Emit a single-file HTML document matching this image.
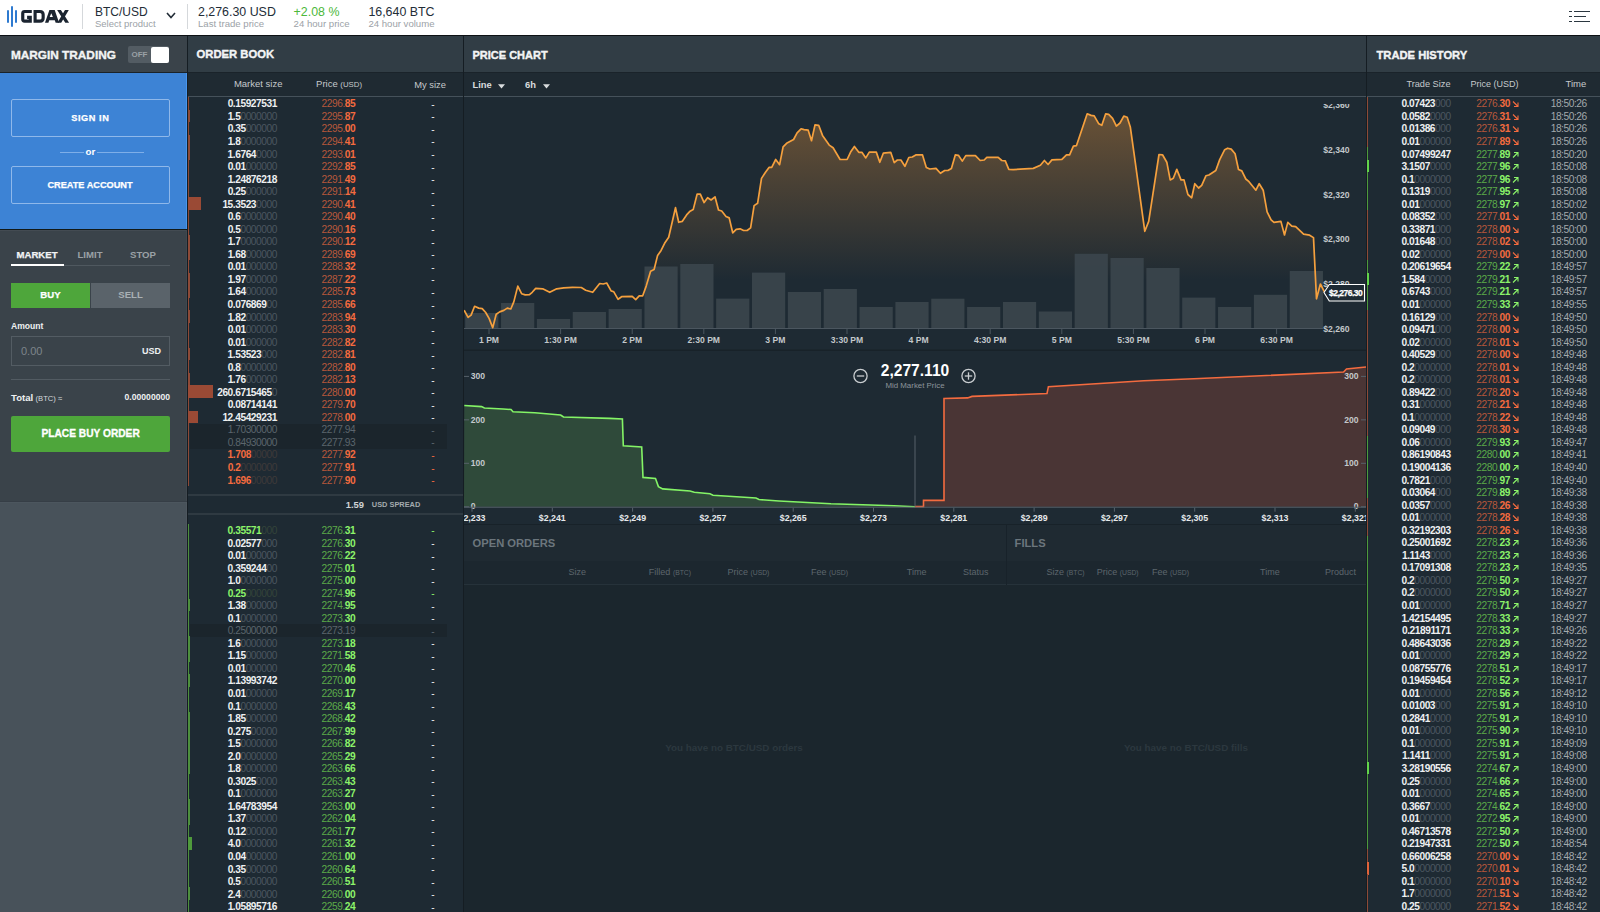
<!DOCTYPE html><html><head><meta charset="utf-8"><style>
html,body{margin:0;padding:0;width:1600px;height:912px;overflow:hidden;background:#1e2a33;font-family:"Liberation Sans", sans-serif;}
.t{position:absolute;white-space:pre;line-height:1;}
.r{position:absolute;}
svg{position:absolute;}
b{font-weight:700}
</style></head><body>
<div class="r" style="left:0px;top:0px;width:1600px;height:35px;background:#ffffff;"></div>
<div class="r" style="left:0px;top:35px;width:1600px;height:1px;background:#0d1115;"></div>
<div class="r" style="left:6.9px;top:10px;width:1.9px;height:12.8px;background:#2e7ad0;border-radius:1px"></div>
<div class="r" style="left:10.9px;top:5.9px;width:2.1px;height:21px;background:#2e7ad0;border-radius:1px"></div>
<div class="r" style="left:15px;top:10px;width:1.9px;height:12.8px;background:#2e7ad0;border-radius:1px"></div>
<svg style="left:0;top:0" width="80" height="35" viewBox="0 0 80 35"><g fill="none" stroke="#1b2430" stroke-width="3.15"><path d="M31.8,11.45 H24.6 Q22.75,11.45 22.75,13.3 V19.3 Q22.75,21.15 24.6,21.15 H30.25 V17.4 H27.1"/><path d="M35.1,9.9 V22.7 M35.1,11.45 H40 Q43.15,11.45 43.15,14.6 V18 Q43.15,21.15 40,21.15 H35.1"/></g><path fill="#1b2430" fill-rule="evenodd" d="M45,22.7 L49.4,9.9 L54.7,9.9 L59.1,22.7 Z M49.7,17.1 L51.3,13.2 L52.9,17.1 Z M48.4,22.7 L49.25,20.2 L54.8,20.2 L55.65,22.7 Z"/><path fill="#1b2430" d="M57.1,9.9 L60.9,9.9 L69.1,22.7 L65.3,22.7 Z M65,9.9 L68.8,9.9 L61.2,22.7 L57.4,22.7 Z"/></svg>
<div class="r" style="left:82px;top:4px;width:1px;height:25px;background:#d5d8db;"></div>
<div class="t" style="top:5.94px;font-size:12px;color:#232d37;font-weight:400;left:95.00px;">BTC/USD</div>
<div class="t" style="top:19.26px;font-size:9.5px;color:#9ca2a7;font-weight:400;left:95.00px;">Select product</div>
<svg style="left:165px;top:11px" width="12" height="9"><polyline points="2,2 6,6.5 10,2" fill="none" stroke="#232d37" stroke-width="1.6"/></svg>
<div class="r" style="left:187px;top:4px;width:1px;height:25px;background:#d5d8db;"></div>
<div class="t" style="top:5.60px;font-size:12.4px;color:#232d37;font-weight:400;left:198.00px;">2,276.30 USD</div>
<div class="t" style="top:19.17px;font-size:9.6px;color:#9ca2a7;font-weight:400;left:198.00px;">Last trade price</div>
<div class="t" style="top:5.60px;font-size:12.4px;color:#4cb83a;font-weight:400;left:293.60px;">+2.08 %</div>
<div class="t" style="top:19.17px;font-size:9.6px;color:#9ca2a7;font-weight:400;left:293.60px;">24 hour price</div>
<div class="t" style="top:5.60px;font-size:12.4px;color:#232d37;font-weight:400;left:368.40px;">16,640 BTC</div>
<div class="t" style="top:19.17px;font-size:9.6px;color:#9ca2a7;font-weight:400;left:368.40px;">24 hour volume</div>
<div class="r" style="left:1569px;top:10.700000000000001px;width:3.2px;height:1.4px;background:#2b3740;"></div>
<div class="r" style="left:1574px;top:10.700000000000001px;width:16px;height:1.4px;background:#2b3740;"></div>
<div class="r" style="left:1569px;top:15.7px;width:3.2px;height:1.4px;background:#2b3740;"></div>
<div class="r" style="left:1574px;top:15.7px;width:12px;height:1.4px;background:#2b3740;"></div>
<div class="r" style="left:1569px;top:20.7px;width:3.2px;height:1.4px;background:#2b3740;"></div>
<div class="r" style="left:1574px;top:20.7px;width:16px;height:1.4px;background:#2b3740;"></div>
<div class="r" style="left:0px;top:36px;width:187px;height:36px;background:#3a434a;"></div>
<div class="r" style="left:187px;top:36px;width:1px;height:876px;background:#151d23;"></div>
<div class="t" style="top:49.61px;font-size:11.8px;color:#eef0f1;font-weight:700;left:11.00px;-webkit-text-stroke:0.35px #ffffff;">MARGIN TRADING</div>
<div class="r" style="left:128px;top:46px;width:41px;height:17px;background:#535c63;border-radius:2px;"></div>
<div class="t" style="top:50.73px;font-size:8px;color:#9aa1a6;font-weight:700;left:131.50px;">OFF</div>
<div class="r" style="left:150.5px;top:46.5px;width:18.5px;height:16px;background:#ffffff;border-radius:2px;"></div>
<div class="r" style="left:0px;top:72px;width:187px;height:1px;background:#1a2228;"></div>
<div class="r" style="left:0px;top:73px;width:187px;height:156px;background:#3d83d5;"></div>
<div class="r" style="left:186px;top:73px;width:1px;height:156px;background:#4996ee;"></div>
<div class="r" style="left:11px;top:99px;width:159px;height:37.5px;border:1px solid #8fb8ea;border-radius:2px;box-sizing:border-box;"></div>
<div class="t" style="top:113.71px;font-size:9.2px;color:#ffffff;font-weight:700;letter-spacing:0.55px;left:-209.70px;width:600px;text-align:center;-webkit-text-stroke:0.25px #fff;">SIGN IN</div>
<div class="r" style="left:60px;top:152px;width:84px;height:1px;background:#7eaee8;"></div>
<div class="r" style="left:83.5px;top:146px;width:13.5px;height:12px;background:#3d83d5;"></div>
<div class="t" style="top:147.19px;font-size:9.7px;color:#ffffff;font-weight:700;left:-209.70px;width:600px;text-align:center;">or</div>
<div class="r" style="left:11px;top:166.2px;width:159px;height:37.5px;border:1px solid #8fb8ea;border-radius:2px;box-sizing:border-box;"></div>
<div class="t" style="top:180.71px;font-size:9.2px;color:#ffffff;font-weight:700;left:-210.00px;width:600px;text-align:center;-webkit-text-stroke:0.25px #fff;">CREATE ACCOUNT</div>
<div class="r" style="left:0px;top:229px;width:187px;height:1px;background:#121917;"></div>
<div class="r" style="left:0px;top:230px;width:187px;height:272px;background:#3a434a;"></div>
<div class="r" style="left:0px;top:230px;width:187px;height:1px;background:#434b52;"></div>
<div class="r" style="left:186px;top:230px;width:1px;height:272px;background:#414950;"></div>
<div class="t" style="top:249.87px;font-size:9.6px;color:#eef0f1;font-weight:700;left:-263.00px;width:600px;text-align:center;-webkit-text-stroke:0.25px #fff;">MARKET</div>
<div class="t" style="top:249.87px;font-size:9.6px;color:#9aa1a6;font-weight:700;left:-210.00px;width:600px;text-align:center;">LIMIT</div>
<div class="t" style="top:249.87px;font-size:9.6px;color:#9aa1a6;font-weight:700;left:-157.00px;width:600px;text-align:center;">STOP</div>
<div class="r" style="left:11px;top:264.5px;width:159px;height:1px;background:#4f585f;"></div>
<div class="r" style="left:11px;top:264px;width:53px;height:2px;background:#ffffff;"></div>
<div class="r" style="left:11px;top:283px;width:79px;height:25px;background:#4ea63b;"></div>
<div class="r" style="left:91px;top:283px;width:79px;height:25px;background:#5a636a;"></div>
<div class="t" style="top:290.37px;font-size:9.6px;color:#ffffff;font-weight:700;left:-249.50px;width:600px;text-align:center;-webkit-text-stroke:0.25px #fff;">BUY</div>
<div class="t" style="top:290.37px;font-size:9.6px;color:#a9b0b4;font-weight:700;left:-169.50px;width:600px;text-align:center;">SELL</div>
<div class="t" style="top:321.72px;font-size:8.6px;color:#eef0f1;font-weight:700;left:11.00px;">Amount</div>
<div class="r" style="left:11px;top:336px;width:159px;height:30px;border:1px solid #535c63;box-sizing:border-box;background:#3a434a;"></div>
<div class="t" style="top:346.19px;font-size:11px;color:#7d858b;font-weight:400;left:21.00px;">0.00</div>
<div class="t" style="top:347.38px;font-size:9px;color:#eef0f1;font-weight:700;left:-439.00px;width:600px;text-align:right;">USD</div>
<div class="r" style="left:11px;top:379px;width:159px;height:1px;background:#525b62;"></div>
<div class="t" style="top:392.87px;font-size:9.6px;color:#eef0f1;font-weight:700;left:11.00px;">Total</div>
<div class="t" style="top:394.57px;font-size:7.6px;color:#d5d9dc;font-weight:400;left:35.60px;">(BTC) ≈</div>
<div class="t" style="top:393.22px;font-size:8.6px;color:#eef0f1;font-weight:700;left:-430.00px;width:600px;text-align:right;">0.00000000</div>
<div class="r" style="left:11px;top:416px;width:159px;height:36px;background:#4ea63b;border-radius:2px;"></div>
<div class="t" style="top:429.17px;font-size:10.2px;color:#ffffff;font-weight:700;left:-209.40px;width:600px;text-align:center;-webkit-text-stroke:0.3px #fff;">PLACE BUY ORDER</div>
<div class="r" style="left:0px;top:501px;width:187px;height:1px;background:#363e46;"></div>
<div class="r" style="left:0px;top:502px;width:187px;height:410px;background:#48525a;"></div>
<div class="r" style="left:0px;top:502px;width:187px;height:1px;background:#4c565e;"></div>
<div class="r" style="left:186px;top:502px;width:1px;height:410px;background:#4e575f;"></div>
<div class="r" style="left:188px;top:36px;width:275px;height:36px;background:#313d45;"></div>
<div class="r" style="left:463px;top:36px;width:1px;height:876px;background:#151d23;"></div>
<div class="t" style="top:49.48px;font-size:11.25px;color:#eef0f1;font-weight:700;left:196.50px;-webkit-text-stroke:0.35px #ffffff;">ORDER BOOK</div>
<div class="r" style="left:188px;top:72px;width:275px;height:24px;background:#1f2a32;"></div>
<div class="r" style="left:188px;top:72px;width:275px;height:1px;background:#1a232a;"></div>
<div class="t" style="top:79.46px;font-size:9.5px;color:#c5c9cc;font-weight:400;left:-317.50px;width:600px;text-align:right;">Market size</div>
<div class="t" style="top:79.46px;font-size:9.5px;color:#c5c9cc;font-weight:400;left:-238.00px;width:600px;text-align:right;">Price <span style="font-size:7.8px">(USD)</span></div>
<div class="t" style="top:79.54px;font-size:9.4px;color:#c5c9cc;font-weight:400;left:-154.00px;width:600px;text-align:right;">My size</div>
<div class="r" style="left:188px;top:96px;width:275px;height:1px;background:#45515a;"></div>
<div class="r" style="left:188px;top:97.0px;width:1px;height:12.639999999999999px;background:#8d4a37;"></div>
<div class="t" style="top:99.37px;font-size:10.2px;color:#eef0f1;font-weight:400;letter-spacing:-0.45px;left:-323.05px;width:600px;text-align:right;"><b style="color:#eef0f1">0.15927531</b><span style="color:#4c5760"></span></div>
<div class="t" style="top:99.37px;font-size:10.2px;color:#f46b3f;font-weight:400;letter-spacing:-0.45px;left:-244.75px;width:600px;text-align:right;"><span style="color:#b8583b">2296.</span><b style="color:#f46b3f">85</b></div>
<div class="t" style="top:99.87px;font-size:10.2px;color:#eef0f1;font-weight:400;left:133.00px;width:600px;text-align:center;">-</div>
<div class="r" style="left:188px;top:109.54px;width:2px;height:12.639999999999999px;background:#8d4a37;"></div>
<div class="t" style="top:111.91px;font-size:10.2px;color:#eef0f1;font-weight:400;letter-spacing:-0.45px;left:-323.05px;width:600px;text-align:right;"><b style="color:#eef0f1">1.5</b><span style="color:#4c5760">0000000</span></div>
<div class="t" style="top:111.91px;font-size:10.2px;color:#f46b3f;font-weight:400;letter-spacing:-0.45px;left:-244.75px;width:600px;text-align:right;"><span style="color:#b8583b">2295.</span><b style="color:#f46b3f">87</b></div>
<div class="t" style="top:112.41px;font-size:10.2px;color:#eef0f1;font-weight:400;left:133.00px;width:600px;text-align:center;">-</div>
<div class="r" style="left:188px;top:122.08px;width:1px;height:12.639999999999999px;background:#8d4a37;"></div>
<div class="t" style="top:124.45px;font-size:10.2px;color:#eef0f1;font-weight:400;letter-spacing:-0.45px;left:-323.05px;width:600px;text-align:right;"><b style="color:#eef0f1">0.35</b><span style="color:#4c5760">000000</span></div>
<div class="t" style="top:124.45px;font-size:10.2px;color:#f46b3f;font-weight:400;letter-spacing:-0.45px;left:-244.75px;width:600px;text-align:right;"><span style="color:#b8583b">2295.</span><b style="color:#f46b3f">00</b></div>
<div class="t" style="top:124.95px;font-size:10.2px;color:#eef0f1;font-weight:400;left:133.00px;width:600px;text-align:center;">-</div>
<div class="r" style="left:188px;top:134.62px;width:2px;height:12.639999999999999px;background:#8d4a37;"></div>
<div class="t" style="top:136.99px;font-size:10.2px;color:#eef0f1;font-weight:400;letter-spacing:-0.45px;left:-323.05px;width:600px;text-align:right;"><b style="color:#eef0f1">1.8</b><span style="color:#4c5760">0000000</span></div>
<div class="t" style="top:136.99px;font-size:10.2px;color:#f46b3f;font-weight:400;letter-spacing:-0.45px;left:-244.75px;width:600px;text-align:right;"><span style="color:#b8583b">2294.</span><b style="color:#f46b3f">41</b></div>
<div class="t" style="top:137.49px;font-size:10.2px;color:#eef0f1;font-weight:400;left:133.00px;width:600px;text-align:center;">-</div>
<div class="r" style="left:188px;top:147.16px;width:2px;height:12.639999999999999px;background:#8d4a37;"></div>
<div class="t" style="top:149.53px;font-size:10.2px;color:#eef0f1;font-weight:400;letter-spacing:-0.45px;left:-323.05px;width:600px;text-align:right;"><b style="color:#eef0f1">1.6764</b><span style="color:#4c5760">0000</span></div>
<div class="t" style="top:149.53px;font-size:10.2px;color:#f46b3f;font-weight:400;letter-spacing:-0.45px;left:-244.75px;width:600px;text-align:right;"><span style="color:#b8583b">2293.</span><b style="color:#f46b3f">01</b></div>
<div class="t" style="top:150.03px;font-size:10.2px;color:#eef0f1;font-weight:400;left:133.00px;width:600px;text-align:center;">-</div>
<div class="r" style="left:188px;top:159.7px;width:1px;height:12.639999999999999px;background:#8d4a37;"></div>
<div class="t" style="top:162.07px;font-size:10.2px;color:#eef0f1;font-weight:400;letter-spacing:-0.45px;left:-323.05px;width:600px;text-align:right;"><b style="color:#eef0f1">0.01</b><span style="color:#4c5760">000000</span></div>
<div class="t" style="top:162.07px;font-size:10.2px;color:#f46b3f;font-weight:400;letter-spacing:-0.45px;left:-244.75px;width:600px;text-align:right;"><span style="color:#b8583b">2292.</span><b style="color:#f46b3f">85</b></div>
<div class="t" style="top:162.57px;font-size:10.2px;color:#eef0f1;font-weight:400;left:133.00px;width:600px;text-align:center;">-</div>
<div class="r" style="left:188px;top:172.24px;width:1px;height:12.639999999999999px;background:#8d4a37;"></div>
<div class="t" style="top:174.61px;font-size:10.2px;color:#eef0f1;font-weight:400;letter-spacing:-0.45px;left:-323.05px;width:600px;text-align:right;"><b style="color:#eef0f1">1.24876218</b><span style="color:#4c5760"></span></div>
<div class="t" style="top:174.61px;font-size:10.2px;color:#f46b3f;font-weight:400;letter-spacing:-0.45px;left:-244.75px;width:600px;text-align:right;"><span style="color:#b8583b">2291.</span><b style="color:#f46b3f">49</b></div>
<div class="t" style="top:175.11px;font-size:10.2px;color:#eef0f1;font-weight:400;left:133.00px;width:600px;text-align:center;">-</div>
<div class="r" style="left:188px;top:184.78px;width:1px;height:12.639999999999999px;background:#8d4a37;"></div>
<div class="t" style="top:187.15px;font-size:10.2px;color:#eef0f1;font-weight:400;letter-spacing:-0.45px;left:-323.05px;width:600px;text-align:right;"><b style="color:#eef0f1">0.25</b><span style="color:#4c5760">000000</span></div>
<div class="t" style="top:187.15px;font-size:10.2px;color:#f46b3f;font-weight:400;letter-spacing:-0.45px;left:-244.75px;width:600px;text-align:right;"><span style="color:#b8583b">2291.</span><b style="color:#f46b3f">14</b></div>
<div class="t" style="top:187.65px;font-size:10.2px;color:#eef0f1;font-weight:400;left:133.00px;width:600px;text-align:center;">-</div>
<div class="r" style="left:188px;top:197.32px;width:13px;height:12.639999999999999px;background:#9a4a35;"></div>
<div class="t" style="top:199.69px;font-size:10.2px;color:#eef0f1;font-weight:400;letter-spacing:-0.45px;left:-323.05px;width:600px;text-align:right;"><b style="color:#eef0f1">15.3523</b><span style="color:#4c5760">0000</span></div>
<div class="t" style="top:199.69px;font-size:10.2px;color:#f46b3f;font-weight:400;letter-spacing:-0.45px;left:-244.75px;width:600px;text-align:right;"><span style="color:#b8583b">2290.</span><b style="color:#f46b3f">41</b></div>
<div class="t" style="top:200.19px;font-size:10.2px;color:#eef0f1;font-weight:400;left:133.00px;width:600px;text-align:center;">-</div>
<div class="r" style="left:188px;top:209.86px;width:1px;height:12.639999999999999px;background:#8d4a37;"></div>
<div class="t" style="top:212.23px;font-size:10.2px;color:#eef0f1;font-weight:400;letter-spacing:-0.45px;left:-323.05px;width:600px;text-align:right;"><b style="color:#eef0f1">0.6</b><span style="color:#4c5760">0000000</span></div>
<div class="t" style="top:212.23px;font-size:10.2px;color:#f46b3f;font-weight:400;letter-spacing:-0.45px;left:-244.75px;width:600px;text-align:right;"><span style="color:#b8583b">2290.</span><b style="color:#f46b3f">40</b></div>
<div class="t" style="top:212.73px;font-size:10.2px;color:#eef0f1;font-weight:400;left:133.00px;width:600px;text-align:center;">-</div>
<div class="r" style="left:188px;top:222.4px;width:1px;height:12.639999999999999px;background:#8d4a37;"></div>
<div class="t" style="top:224.77px;font-size:10.2px;color:#eef0f1;font-weight:400;letter-spacing:-0.45px;left:-323.05px;width:600px;text-align:right;"><b style="color:#eef0f1">0.5</b><span style="color:#4c5760">0000000</span></div>
<div class="t" style="top:224.77px;font-size:10.2px;color:#f46b3f;font-weight:400;letter-spacing:-0.45px;left:-244.75px;width:600px;text-align:right;"><span style="color:#b8583b">2290.</span><b style="color:#f46b3f">16</b></div>
<div class="t" style="top:225.27px;font-size:10.2px;color:#eef0f1;font-weight:400;left:133.00px;width:600px;text-align:center;">-</div>
<div class="r" style="left:188px;top:234.94px;width:2px;height:12.639999999999999px;background:#8d4a37;"></div>
<div class="t" style="top:237.31px;font-size:10.2px;color:#eef0f1;font-weight:400;letter-spacing:-0.45px;left:-323.05px;width:600px;text-align:right;"><b style="color:#eef0f1">1.7</b><span style="color:#4c5760">0000000</span></div>
<div class="t" style="top:237.31px;font-size:10.2px;color:#f46b3f;font-weight:400;letter-spacing:-0.45px;left:-244.75px;width:600px;text-align:right;"><span style="color:#b8583b">2290.</span><b style="color:#f46b3f">12</b></div>
<div class="t" style="top:237.81px;font-size:10.2px;color:#eef0f1;font-weight:400;left:133.00px;width:600px;text-align:center;">-</div>
<div class="r" style="left:188px;top:247.48px;width:2px;height:12.639999999999999px;background:#8d4a37;"></div>
<div class="t" style="top:249.85px;font-size:10.2px;color:#eef0f1;font-weight:400;letter-spacing:-0.45px;left:-323.05px;width:600px;text-align:right;"><b style="color:#eef0f1">1.68</b><span style="color:#4c5760">000000</span></div>
<div class="t" style="top:249.85px;font-size:10.2px;color:#f46b3f;font-weight:400;letter-spacing:-0.45px;left:-244.75px;width:600px;text-align:right;"><span style="color:#b8583b">2289.</span><b style="color:#f46b3f">69</b></div>
<div class="t" style="top:250.35px;font-size:10.2px;color:#eef0f1;font-weight:400;left:133.00px;width:600px;text-align:center;">-</div>
<div class="r" style="left:188px;top:260.02px;width:1px;height:12.639999999999999px;background:#8d4a37;"></div>
<div class="t" style="top:262.39px;font-size:10.2px;color:#eef0f1;font-weight:400;letter-spacing:-0.45px;left:-323.05px;width:600px;text-align:right;"><b style="color:#eef0f1">0.01</b><span style="color:#4c5760">000000</span></div>
<div class="t" style="top:262.39px;font-size:10.2px;color:#f46b3f;font-weight:400;letter-spacing:-0.45px;left:-244.75px;width:600px;text-align:right;"><span style="color:#b8583b">2288.</span><b style="color:#f46b3f">32</b></div>
<div class="t" style="top:262.89px;font-size:10.2px;color:#eef0f1;font-weight:400;left:133.00px;width:600px;text-align:center;">-</div>
<div class="r" style="left:188px;top:272.56px;width:2px;height:12.639999999999999px;background:#8d4a37;"></div>
<div class="t" style="top:274.93px;font-size:10.2px;color:#eef0f1;font-weight:400;letter-spacing:-0.45px;left:-323.05px;width:600px;text-align:right;"><b style="color:#eef0f1">1.97</b><span style="color:#4c5760">000000</span></div>
<div class="t" style="top:274.93px;font-size:10.2px;color:#f46b3f;font-weight:400;letter-spacing:-0.45px;left:-244.75px;width:600px;text-align:right;"><span style="color:#b8583b">2287.</span><b style="color:#f46b3f">22</b></div>
<div class="t" style="top:275.43px;font-size:10.2px;color:#eef0f1;font-weight:400;left:133.00px;width:600px;text-align:center;">-</div>
<div class="r" style="left:188px;top:285.1px;width:2px;height:12.639999999999999px;background:#8d4a37;"></div>
<div class="t" style="top:287.47px;font-size:10.2px;color:#eef0f1;font-weight:400;letter-spacing:-0.45px;left:-323.05px;width:600px;text-align:right;"><b style="color:#eef0f1">1.64</b><span style="color:#4c5760">000000</span></div>
<div class="t" style="top:287.47px;font-size:10.2px;color:#f46b3f;font-weight:400;letter-spacing:-0.45px;left:-244.75px;width:600px;text-align:right;"><span style="color:#b8583b">2285.</span><b style="color:#f46b3f">73</b></div>
<div class="t" style="top:287.97px;font-size:10.2px;color:#eef0f1;font-weight:400;left:133.00px;width:600px;text-align:center;">-</div>
<div class="r" style="left:188px;top:297.64px;width:1px;height:12.639999999999999px;background:#8d4a37;"></div>
<div class="t" style="top:300.01px;font-size:10.2px;color:#eef0f1;font-weight:400;letter-spacing:-0.45px;left:-323.05px;width:600px;text-align:right;"><b style="color:#eef0f1">0.076869</b><span style="color:#4c5760">00</span></div>
<div class="t" style="top:300.01px;font-size:10.2px;color:#f46b3f;font-weight:400;letter-spacing:-0.45px;left:-244.75px;width:600px;text-align:right;"><span style="color:#b8583b">2285.</span><b style="color:#f46b3f">66</b></div>
<div class="t" style="top:300.51px;font-size:10.2px;color:#eef0f1;font-weight:400;left:133.00px;width:600px;text-align:center;">-</div>
<div class="r" style="left:188px;top:310.18px;width:2px;height:12.639999999999999px;background:#8d4a37;"></div>
<div class="t" style="top:312.55px;font-size:10.2px;color:#eef0f1;font-weight:400;letter-spacing:-0.45px;left:-323.05px;width:600px;text-align:right;"><b style="color:#eef0f1">1.82</b><span style="color:#4c5760">000000</span></div>
<div class="t" style="top:312.55px;font-size:10.2px;color:#f46b3f;font-weight:400;letter-spacing:-0.45px;left:-244.75px;width:600px;text-align:right;"><span style="color:#b8583b">2283.</span><b style="color:#f46b3f">94</b></div>
<div class="t" style="top:313.05px;font-size:10.2px;color:#eef0f1;font-weight:400;left:133.00px;width:600px;text-align:center;">-</div>
<div class="r" style="left:188px;top:322.72px;width:1px;height:12.639999999999999px;background:#8d4a37;"></div>
<div class="t" style="top:325.09px;font-size:10.2px;color:#eef0f1;font-weight:400;letter-spacing:-0.45px;left:-323.05px;width:600px;text-align:right;"><b style="color:#eef0f1">0.01</b><span style="color:#4c5760">000000</span></div>
<div class="t" style="top:325.09px;font-size:10.2px;color:#f46b3f;font-weight:400;letter-spacing:-0.45px;left:-244.75px;width:600px;text-align:right;"><span style="color:#b8583b">2283.</span><b style="color:#f46b3f">30</b></div>
<div class="t" style="top:325.59px;font-size:10.2px;color:#eef0f1;font-weight:400;left:133.00px;width:600px;text-align:center;">-</div>
<div class="r" style="left:188px;top:335.26px;width:1px;height:12.639999999999999px;background:#8d4a37;"></div>
<div class="t" style="top:337.63px;font-size:10.2px;color:#eef0f1;font-weight:400;letter-spacing:-0.45px;left:-323.05px;width:600px;text-align:right;"><b style="color:#eef0f1">0.01</b><span style="color:#4c5760">000000</span></div>
<div class="t" style="top:337.63px;font-size:10.2px;color:#f46b3f;font-weight:400;letter-spacing:-0.45px;left:-244.75px;width:600px;text-align:right;"><span style="color:#b8583b">2282.</span><b style="color:#f46b3f">82</b></div>
<div class="t" style="top:338.13px;font-size:10.2px;color:#eef0f1;font-weight:400;left:133.00px;width:600px;text-align:center;">-</div>
<div class="r" style="left:188px;top:347.8px;width:2px;height:12.639999999999999px;background:#8d4a37;"></div>
<div class="t" style="top:350.17px;font-size:10.2px;color:#eef0f1;font-weight:400;letter-spacing:-0.45px;left:-323.05px;width:600px;text-align:right;"><b style="color:#eef0f1">1.53523</b><span style="color:#4c5760">000</span></div>
<div class="t" style="top:350.17px;font-size:10.2px;color:#f46b3f;font-weight:400;letter-spacing:-0.45px;left:-244.75px;width:600px;text-align:right;"><span style="color:#b8583b">2282.</span><b style="color:#f46b3f">81</b></div>
<div class="t" style="top:350.67px;font-size:10.2px;color:#eef0f1;font-weight:400;left:133.00px;width:600px;text-align:center;">-</div>
<div class="r" style="left:188px;top:360.34px;width:1px;height:12.639999999999999px;background:#8d4a37;"></div>
<div class="t" style="top:362.71px;font-size:10.2px;color:#eef0f1;font-weight:400;letter-spacing:-0.45px;left:-323.05px;width:600px;text-align:right;"><b style="color:#eef0f1">0.8</b><span style="color:#4c5760">0000000</span></div>
<div class="t" style="top:362.71px;font-size:10.2px;color:#f46b3f;font-weight:400;letter-spacing:-0.45px;left:-244.75px;width:600px;text-align:right;"><span style="color:#b8583b">2282.</span><b style="color:#f46b3f">80</b></div>
<div class="t" style="top:363.21px;font-size:10.2px;color:#eef0f1;font-weight:400;left:133.00px;width:600px;text-align:center;">-</div>
<div class="r" style="left:188px;top:372.88px;width:2px;height:12.639999999999999px;background:#8d4a37;"></div>
<div class="t" style="top:375.25px;font-size:10.2px;color:#eef0f1;font-weight:400;letter-spacing:-0.45px;left:-323.05px;width:600px;text-align:right;"><b style="color:#eef0f1">1.76</b><span style="color:#4c5760">000000</span></div>
<div class="t" style="top:375.25px;font-size:10.2px;color:#f46b3f;font-weight:400;letter-spacing:-0.45px;left:-244.75px;width:600px;text-align:right;"><span style="color:#b8583b">2282.</span><b style="color:#f46b3f">13</b></div>
<div class="t" style="top:375.75px;font-size:10.2px;color:#eef0f1;font-weight:400;left:133.00px;width:600px;text-align:center;">-</div>
<div class="r" style="left:188px;top:385.42px;width:25px;height:12.639999999999999px;background:#9a4a35;"></div>
<div class="t" style="top:387.79px;font-size:10.2px;color:#eef0f1;font-weight:400;letter-spacing:-0.45px;left:-323.05px;width:600px;text-align:right;"><b style="color:#eef0f1">260.6715465</b><span style="color:#4c5760">0</span></div>
<div class="t" style="top:387.79px;font-size:10.2px;color:#f46b3f;font-weight:400;letter-spacing:-0.45px;left:-244.75px;width:600px;text-align:right;"><span style="color:#b8583b">2280.</span><b style="color:#f46b3f">00</b></div>
<div class="t" style="top:388.29px;font-size:10.2px;color:#eef0f1;font-weight:400;left:133.00px;width:600px;text-align:center;">-</div>
<div class="r" style="left:188px;top:397.96px;width:1px;height:12.639999999999999px;background:#8d4a37;"></div>
<div class="t" style="top:400.33px;font-size:10.2px;color:#eef0f1;font-weight:400;letter-spacing:-0.45px;left:-323.05px;width:600px;text-align:right;"><b style="color:#eef0f1">0.08714141</b><span style="color:#4c5760"></span></div>
<div class="t" style="top:400.33px;font-size:10.2px;color:#f46b3f;font-weight:400;letter-spacing:-0.45px;left:-244.75px;width:600px;text-align:right;"><span style="color:#b8583b">2279.</span><b style="color:#f46b3f">70</b></div>
<div class="t" style="top:400.83px;font-size:10.2px;color:#eef0f1;font-weight:400;left:133.00px;width:600px;text-align:center;">-</div>
<div class="r" style="left:188px;top:410.5px;width:10px;height:12.639999999999999px;background:#9a4a35;"></div>
<div class="t" style="top:412.87px;font-size:10.2px;color:#eef0f1;font-weight:400;letter-spacing:-0.45px;left:-323.05px;width:600px;text-align:right;"><b style="color:#eef0f1">12.45429231</b><span style="color:#4c5760"></span></div>
<div class="t" style="top:412.87px;font-size:10.2px;color:#f46b3f;font-weight:400;letter-spacing:-0.45px;left:-244.75px;width:600px;text-align:right;"><span style="color:#b8583b">2278.</span><b style="color:#f46b3f">00</b></div>
<div class="t" style="top:413.37px;font-size:10.2px;color:#eef0f1;font-weight:400;left:133.00px;width:600px;text-align:center;">-</div>
<div class="r" style="left:190px;top:423.54px;width:257px;height:12.5px;background:#1b252c;"></div>
<div class="r" style="left:188px;top:423.04px;width:1px;height:12.639999999999999px;background:#8d4a37;"></div>
<div class="t" style="top:425.41px;font-size:10.2px;color:#5b656d;font-weight:400;letter-spacing:-0.45px;left:-323.05px;width:600px;text-align:right;">1.70300000</div>
<div class="t" style="top:425.41px;font-size:10.2px;color:#5b656d;font-weight:400;letter-spacing:-0.45px;left:-244.75px;width:600px;text-align:right;">2277.94</div>
<div class="t" style="top:425.91px;font-size:10.2px;color:#5b656d;font-weight:400;left:133.00px;width:600px;text-align:center;">-</div>
<div class="r" style="left:190px;top:436.08px;width:257px;height:12.5px;background:#1b252c;"></div>
<div class="r" style="left:188px;top:435.58px;width:1px;height:12.639999999999999px;background:#8d4a37;"></div>
<div class="t" style="top:437.95px;font-size:10.2px;color:#5b656d;font-weight:400;letter-spacing:-0.45px;left:-323.05px;width:600px;text-align:right;">0.84930000</div>
<div class="t" style="top:437.95px;font-size:10.2px;color:#5b656d;font-weight:400;letter-spacing:-0.45px;left:-244.75px;width:600px;text-align:right;">2277.93</div>
<div class="t" style="top:438.45px;font-size:10.2px;color:#5b656d;font-weight:400;left:133.00px;width:600px;text-align:center;">-</div>
<div class="r" style="left:188px;top:448.12px;width:1px;height:12.639999999999999px;background:#8d4a37;"></div>
<div class="t" style="top:450.49px;font-size:10.2px;color:#f46b3f;font-weight:400;letter-spacing:-0.45px;left:-323.05px;width:600px;text-align:right;"><b style="color:#f46b3f">1.708</b><span style="color:#3f3a3a">00000</span></div>
<div class="t" style="top:450.49px;font-size:10.2px;color:#f46b3f;font-weight:400;letter-spacing:-0.45px;left:-244.75px;width:600px;text-align:right;"><span style="color:#b8583b">2277.</span><b style="color:#f46b3f">92</b></div>
<div class="t" style="top:450.99px;font-size:10.2px;color:#f46b3f;font-weight:400;left:133.00px;width:600px;text-align:center;">-</div>
<div class="r" style="left:188px;top:460.66px;width:1px;height:12.639999999999999px;background:#8d4a37;"></div>
<div class="t" style="top:463.03px;font-size:10.2px;color:#f46b3f;font-weight:400;letter-spacing:-0.45px;left:-323.05px;width:600px;text-align:right;"><b style="color:#f46b3f">0.2</b><span style="color:#3f3a3a">0000000</span></div>
<div class="t" style="top:463.03px;font-size:10.2px;color:#f46b3f;font-weight:400;letter-spacing:-0.45px;left:-244.75px;width:600px;text-align:right;"><span style="color:#b8583b">2277.</span><b style="color:#f46b3f">91</b></div>
<div class="t" style="top:463.53px;font-size:10.2px;color:#f46b3f;font-weight:400;left:133.00px;width:600px;text-align:center;">-</div>
<div class="r" style="left:188px;top:473.2px;width:1px;height:12.639999999999999px;background:#8d4a37;"></div>
<div class="t" style="top:475.57px;font-size:10.2px;color:#f46b3f;font-weight:400;letter-spacing:-0.45px;left:-323.05px;width:600px;text-align:right;"><b style="color:#f46b3f">1.696</b><span style="color:#3f3a3a">00000</span></div>
<div class="t" style="top:475.57px;font-size:10.2px;color:#f46b3f;font-weight:400;letter-spacing:-0.45px;left:-244.75px;width:600px;text-align:right;"><span style="color:#b8583b">2277.</span><b style="color:#f46b3f">90</b></div>
<div class="t" style="top:476.07px;font-size:10.2px;color:#f46b3f;font-weight:400;left:133.00px;width:600px;text-align:center;">-</div>
<div class="r" style="left:188px;top:494px;width:275px;height:2px;background:#2f3a42;"></div>
<div class="r" style="left:188px;top:512.5px;width:275px;height:2px;background:#2f3a42;"></div>
<div class="t" style="top:499.54px;font-size:9.4px;color:#d0d4d7;font-weight:700;left:-236.00px;width:600px;text-align:right;">1.59</div>
<div class="t" style="top:501.04px;font-size:7.4px;color:#a4aaae;font-weight:700;left:371.80px;">USD SPREAD</div>
<div class="r" style="left:188px;top:523.6px;width:1px;height:12.639999999999999px;background:#4d8f3d;"></div>
<div class="t" style="top:525.97px;font-size:10.2px;color:#8cf36a;font-weight:400;letter-spacing:-0.45px;left:-323.05px;width:600px;text-align:right;"><b style="color:#8cf36a">0.35571</b><span style="color:#34443a">000</span></div>
<div class="t" style="top:525.97px;font-size:10.2px;color:#8cf36a;font-weight:400;letter-spacing:-0.45px;left:-244.75px;width:600px;text-align:right;"><span style="color:#5caa49">2276.</span><b style="color:#8cf36a">31</b></div>
<div class="t" style="top:526.47px;font-size:10.2px;color:#8cf36a;font-weight:400;left:133.00px;width:600px;text-align:center;">-</div>
<div class="r" style="left:188px;top:536.14px;width:1px;height:12.639999999999999px;background:#4d8f3d;"></div>
<div class="t" style="top:538.51px;font-size:10.2px;color:#eef0f1;font-weight:400;letter-spacing:-0.45px;left:-323.05px;width:600px;text-align:right;"><b style="color:#eef0f1">0.02577</b><span style="color:#4c5760">000</span></div>
<div class="t" style="top:538.51px;font-size:10.2px;color:#8cf36a;font-weight:400;letter-spacing:-0.45px;left:-244.75px;width:600px;text-align:right;"><span style="color:#5caa49">2276.</span><b style="color:#8cf36a">30</b></div>
<div class="t" style="top:539.01px;font-size:10.2px;color:#eef0f1;font-weight:400;left:133.00px;width:600px;text-align:center;">-</div>
<div class="r" style="left:188px;top:548.68px;width:1px;height:12.639999999999999px;background:#4d8f3d;"></div>
<div class="t" style="top:551.05px;font-size:10.2px;color:#eef0f1;font-weight:400;letter-spacing:-0.45px;left:-323.05px;width:600px;text-align:right;"><b style="color:#eef0f1">0.01</b><span style="color:#4c5760">000000</span></div>
<div class="t" style="top:551.05px;font-size:10.2px;color:#8cf36a;font-weight:400;letter-spacing:-0.45px;left:-244.75px;width:600px;text-align:right;"><span style="color:#5caa49">2276.</span><b style="color:#8cf36a">22</b></div>
<div class="t" style="top:551.55px;font-size:10.2px;color:#eef0f1;font-weight:400;left:133.00px;width:600px;text-align:center;">-</div>
<div class="r" style="left:188px;top:561.22px;width:1px;height:12.639999999999999px;background:#4d8f3d;"></div>
<div class="t" style="top:563.59px;font-size:10.2px;color:#eef0f1;font-weight:400;letter-spacing:-0.45px;left:-323.05px;width:600px;text-align:right;"><b style="color:#eef0f1">0.359244</b><span style="color:#4c5760">00</span></div>
<div class="t" style="top:563.59px;font-size:10.2px;color:#8cf36a;font-weight:400;letter-spacing:-0.45px;left:-244.75px;width:600px;text-align:right;"><span style="color:#5caa49">2275.</span><b style="color:#8cf36a">01</b></div>
<div class="t" style="top:564.09px;font-size:10.2px;color:#eef0f1;font-weight:400;left:133.00px;width:600px;text-align:center;">-</div>
<div class="r" style="left:188px;top:573.76px;width:1px;height:12.639999999999999px;background:#4d8f3d;"></div>
<div class="t" style="top:576.13px;font-size:10.2px;color:#eef0f1;font-weight:400;letter-spacing:-0.45px;left:-323.05px;width:600px;text-align:right;"><b style="color:#eef0f1">1.0</b><span style="color:#4c5760">0000000</span></div>
<div class="t" style="top:576.13px;font-size:10.2px;color:#8cf36a;font-weight:400;letter-spacing:-0.45px;left:-244.75px;width:600px;text-align:right;"><span style="color:#5caa49">2275.</span><b style="color:#8cf36a">00</b></div>
<div class="t" style="top:576.63px;font-size:10.2px;color:#eef0f1;font-weight:400;left:133.00px;width:600px;text-align:center;">-</div>
<div class="r" style="left:188px;top:586.3px;width:1px;height:12.639999999999999px;background:#4d8f3d;"></div>
<div class="t" style="top:588.67px;font-size:10.2px;color:#8cf36a;font-weight:400;letter-spacing:-0.45px;left:-323.05px;width:600px;text-align:right;"><b style="color:#8cf36a">0.25</b><span style="color:#34443a">000000</span></div>
<div class="t" style="top:588.67px;font-size:10.2px;color:#8cf36a;font-weight:400;letter-spacing:-0.45px;left:-244.75px;width:600px;text-align:right;"><span style="color:#5caa49">2274.</span><b style="color:#8cf36a">96</b></div>
<div class="t" style="top:589.17px;font-size:10.2px;color:#8cf36a;font-weight:400;left:133.00px;width:600px;text-align:center;">-</div>
<div class="r" style="left:188px;top:598.84px;width:2px;height:12.639999999999999px;background:#4d8f3d;"></div>
<div class="t" style="top:601.21px;font-size:10.2px;color:#eef0f1;font-weight:400;letter-spacing:-0.45px;left:-323.05px;width:600px;text-align:right;"><b style="color:#eef0f1">1.38</b><span style="color:#4c5760">000000</span></div>
<div class="t" style="top:601.21px;font-size:10.2px;color:#8cf36a;font-weight:400;letter-spacing:-0.45px;left:-244.75px;width:600px;text-align:right;"><span style="color:#5caa49">2274.</span><b style="color:#8cf36a">95</b></div>
<div class="t" style="top:601.71px;font-size:10.2px;color:#eef0f1;font-weight:400;left:133.00px;width:600px;text-align:center;">-</div>
<div class="r" style="left:188px;top:611.38px;width:1px;height:12.639999999999999px;background:#4d8f3d;"></div>
<div class="t" style="top:613.75px;font-size:10.2px;color:#eef0f1;font-weight:400;letter-spacing:-0.45px;left:-323.05px;width:600px;text-align:right;"><b style="color:#eef0f1">0.1</b><span style="color:#4c5760">0000000</span></div>
<div class="t" style="top:613.75px;font-size:10.2px;color:#8cf36a;font-weight:400;letter-spacing:-0.45px;left:-244.75px;width:600px;text-align:right;"><span style="color:#5caa49">2273.</span><b style="color:#8cf36a">30</b></div>
<div class="t" style="top:614.25px;font-size:10.2px;color:#eef0f1;font-weight:400;left:133.00px;width:600px;text-align:center;">-</div>
<div class="r" style="left:190px;top:624.42px;width:257px;height:12.5px;background:#1b252c;"></div>
<div class="r" style="left:188px;top:623.92px;width:1px;height:12.639999999999999px;background:#4d8f3d;"></div>
<div class="t" style="top:626.29px;font-size:10.2px;color:#5b656d;font-weight:400;letter-spacing:-0.45px;left:-323.05px;width:600px;text-align:right;">0.25000000</div>
<div class="t" style="top:626.29px;font-size:10.2px;color:#5b656d;font-weight:400;letter-spacing:-0.45px;left:-244.75px;width:600px;text-align:right;">2273.19</div>
<div class="t" style="top:626.79px;font-size:10.2px;color:#5b656d;font-weight:400;left:133.00px;width:600px;text-align:center;">-</div>
<div class="r" style="left:188px;top:636.46px;width:2px;height:12.639999999999999px;background:#4d8f3d;"></div>
<div class="t" style="top:638.83px;font-size:10.2px;color:#eef0f1;font-weight:400;letter-spacing:-0.45px;left:-323.05px;width:600px;text-align:right;"><b style="color:#eef0f1">1.6</b><span style="color:#4c5760">0000000</span></div>
<div class="t" style="top:638.83px;font-size:10.2px;color:#8cf36a;font-weight:400;letter-spacing:-0.45px;left:-244.75px;width:600px;text-align:right;"><span style="color:#5caa49">2273.</span><b style="color:#8cf36a">18</b></div>
<div class="t" style="top:639.33px;font-size:10.2px;color:#eef0f1;font-weight:400;left:133.00px;width:600px;text-align:center;">-</div>
<div class="r" style="left:188px;top:649.0px;width:2px;height:12.639999999999999px;background:#4d8f3d;"></div>
<div class="t" style="top:651.37px;font-size:10.2px;color:#eef0f1;font-weight:400;letter-spacing:-0.45px;left:-323.05px;width:600px;text-align:right;"><b style="color:#eef0f1">1.15</b><span style="color:#4c5760">000000</span></div>
<div class="t" style="top:651.37px;font-size:10.2px;color:#8cf36a;font-weight:400;letter-spacing:-0.45px;left:-244.75px;width:600px;text-align:right;"><span style="color:#5caa49">2271.</span><b style="color:#8cf36a">58</b></div>
<div class="t" style="top:651.87px;font-size:10.2px;color:#eef0f1;font-weight:400;left:133.00px;width:600px;text-align:center;">-</div>
<div class="r" style="left:188px;top:661.54px;width:1px;height:12.639999999999999px;background:#4d8f3d;"></div>
<div class="t" style="top:663.91px;font-size:10.2px;color:#eef0f1;font-weight:400;letter-spacing:-0.45px;left:-323.05px;width:600px;text-align:right;"><b style="color:#eef0f1">0.01</b><span style="color:#4c5760">000000</span></div>
<div class="t" style="top:663.91px;font-size:10.2px;color:#8cf36a;font-weight:400;letter-spacing:-0.45px;left:-244.75px;width:600px;text-align:right;"><span style="color:#5caa49">2270.</span><b style="color:#8cf36a">46</b></div>
<div class="t" style="top:664.41px;font-size:10.2px;color:#eef0f1;font-weight:400;left:133.00px;width:600px;text-align:center;">-</div>
<div class="r" style="left:188px;top:674.08px;width:2px;height:12.639999999999999px;background:#4d8f3d;"></div>
<div class="t" style="top:676.45px;font-size:10.2px;color:#eef0f1;font-weight:400;letter-spacing:-0.45px;left:-323.05px;width:600px;text-align:right;"><b style="color:#eef0f1">1.13993742</b><span style="color:#4c5760"></span></div>
<div class="t" style="top:676.45px;font-size:10.2px;color:#8cf36a;font-weight:400;letter-spacing:-0.45px;left:-244.75px;width:600px;text-align:right;"><span style="color:#5caa49">2270.</span><b style="color:#8cf36a">00</b></div>
<div class="t" style="top:676.95px;font-size:10.2px;color:#eef0f1;font-weight:400;left:133.00px;width:600px;text-align:center;">-</div>
<div class="r" style="left:188px;top:686.62px;width:1px;height:12.639999999999999px;background:#4d8f3d;"></div>
<div class="t" style="top:688.99px;font-size:10.2px;color:#eef0f1;font-weight:400;letter-spacing:-0.45px;left:-323.05px;width:600px;text-align:right;"><b style="color:#eef0f1">0.01</b><span style="color:#4c5760">000000</span></div>
<div class="t" style="top:688.99px;font-size:10.2px;color:#8cf36a;font-weight:400;letter-spacing:-0.45px;left:-244.75px;width:600px;text-align:right;"><span style="color:#5caa49">2269.</span><b style="color:#8cf36a">17</b></div>
<div class="t" style="top:689.49px;font-size:10.2px;color:#eef0f1;font-weight:400;left:133.00px;width:600px;text-align:center;">-</div>
<div class="r" style="left:188px;top:699.16px;width:1px;height:12.639999999999999px;background:#4d8f3d;"></div>
<div class="t" style="top:701.53px;font-size:10.2px;color:#eef0f1;font-weight:400;letter-spacing:-0.45px;left:-323.05px;width:600px;text-align:right;"><b style="color:#eef0f1">0.1</b><span style="color:#4c5760">0000000</span></div>
<div class="t" style="top:701.53px;font-size:10.2px;color:#8cf36a;font-weight:400;letter-spacing:-0.45px;left:-244.75px;width:600px;text-align:right;"><span style="color:#5caa49">2268.</span><b style="color:#8cf36a">43</b></div>
<div class="t" style="top:702.03px;font-size:10.2px;color:#eef0f1;font-weight:400;left:133.00px;width:600px;text-align:center;">-</div>
<div class="r" style="left:188px;top:711.7px;width:2px;height:12.639999999999999px;background:#4d8f3d;"></div>
<div class="t" style="top:714.07px;font-size:10.2px;color:#eef0f1;font-weight:400;letter-spacing:-0.45px;left:-323.05px;width:600px;text-align:right;"><b style="color:#eef0f1">1.85</b><span style="color:#4c5760">000000</span></div>
<div class="t" style="top:714.07px;font-size:10.2px;color:#8cf36a;font-weight:400;letter-spacing:-0.45px;left:-244.75px;width:600px;text-align:right;"><span style="color:#5caa49">2268.</span><b style="color:#8cf36a">42</b></div>
<div class="t" style="top:714.57px;font-size:10.2px;color:#eef0f1;font-weight:400;left:133.00px;width:600px;text-align:center;">-</div>
<div class="r" style="left:188px;top:724.24px;width:2px;height:12.639999999999999px;background:#4d8f3d;"></div>
<div class="t" style="top:726.61px;font-size:10.2px;color:#eef0f1;font-weight:400;letter-spacing:-0.45px;left:-323.05px;width:600px;text-align:right;"><b style="color:#eef0f1">0.275</b><span style="color:#4c5760">00000</span></div>
<div class="t" style="top:726.61px;font-size:10.2px;color:#8cf36a;font-weight:400;letter-spacing:-0.45px;left:-244.75px;width:600px;text-align:right;"><span style="color:#5caa49">2267.</span><b style="color:#8cf36a">99</b></div>
<div class="t" style="top:727.11px;font-size:10.2px;color:#eef0f1;font-weight:400;left:133.00px;width:600px;text-align:center;">-</div>
<div class="r" style="left:188px;top:736.78px;width:2px;height:12.639999999999999px;background:#4d8f3d;"></div>
<div class="t" style="top:739.15px;font-size:10.2px;color:#eef0f1;font-weight:400;letter-spacing:-0.45px;left:-323.05px;width:600px;text-align:right;"><b style="color:#eef0f1">1.5</b><span style="color:#4c5760">0000000</span></div>
<div class="t" style="top:739.15px;font-size:10.2px;color:#8cf36a;font-weight:400;letter-spacing:-0.45px;left:-244.75px;width:600px;text-align:right;"><span style="color:#5caa49">2266.</span><b style="color:#8cf36a">82</b></div>
<div class="t" style="top:739.65px;font-size:10.2px;color:#eef0f1;font-weight:400;left:133.00px;width:600px;text-align:center;">-</div>
<div class="r" style="left:188px;top:749.32px;width:2px;height:12.639999999999999px;background:#4d8f3d;"></div>
<div class="t" style="top:751.69px;font-size:10.2px;color:#eef0f1;font-weight:400;letter-spacing:-0.45px;left:-323.05px;width:600px;text-align:right;"><b style="color:#eef0f1">2.0</b><span style="color:#4c5760">0000000</span></div>
<div class="t" style="top:751.69px;font-size:10.2px;color:#8cf36a;font-weight:400;letter-spacing:-0.45px;left:-244.75px;width:600px;text-align:right;"><span style="color:#5caa49">2265.</span><b style="color:#8cf36a">29</b></div>
<div class="t" style="top:752.19px;font-size:10.2px;color:#eef0f1;font-weight:400;left:133.00px;width:600px;text-align:center;">-</div>
<div class="r" style="left:188px;top:761.86px;width:2px;height:12.639999999999999px;background:#4d8f3d;"></div>
<div class="t" style="top:764.23px;font-size:10.2px;color:#eef0f1;font-weight:400;letter-spacing:-0.45px;left:-323.05px;width:600px;text-align:right;"><b style="color:#eef0f1">1.8</b><span style="color:#4c5760">0000000</span></div>
<div class="t" style="top:764.23px;font-size:10.2px;color:#8cf36a;font-weight:400;letter-spacing:-0.45px;left:-244.75px;width:600px;text-align:right;"><span style="color:#5caa49">2263.</span><b style="color:#8cf36a">66</b></div>
<div class="t" style="top:764.73px;font-size:10.2px;color:#eef0f1;font-weight:400;left:133.00px;width:600px;text-align:center;">-</div>
<div class="r" style="left:188px;top:774.4px;width:1px;height:12.639999999999999px;background:#4d8f3d;"></div>
<div class="t" style="top:776.77px;font-size:10.2px;color:#eef0f1;font-weight:400;letter-spacing:-0.45px;left:-323.05px;width:600px;text-align:right;"><b style="color:#eef0f1">0.3025</b><span style="color:#4c5760">0000</span></div>
<div class="t" style="top:776.77px;font-size:10.2px;color:#8cf36a;font-weight:400;letter-spacing:-0.45px;left:-244.75px;width:600px;text-align:right;"><span style="color:#5caa49">2263.</span><b style="color:#8cf36a">43</b></div>
<div class="t" style="top:777.27px;font-size:10.2px;color:#eef0f1;font-weight:400;left:133.00px;width:600px;text-align:center;">-</div>
<div class="r" style="left:188px;top:786.94px;width:1px;height:12.639999999999999px;background:#4d8f3d;"></div>
<div class="t" style="top:789.31px;font-size:10.2px;color:#eef0f1;font-weight:400;letter-spacing:-0.45px;left:-323.05px;width:600px;text-align:right;"><b style="color:#eef0f1">0.1</b><span style="color:#4c5760">0000000</span></div>
<div class="t" style="top:789.31px;font-size:10.2px;color:#8cf36a;font-weight:400;letter-spacing:-0.45px;left:-244.75px;width:600px;text-align:right;"><span style="color:#5caa49">2263.</span><b style="color:#8cf36a">27</b></div>
<div class="t" style="top:789.81px;font-size:10.2px;color:#eef0f1;font-weight:400;left:133.00px;width:600px;text-align:center;">-</div>
<div class="r" style="left:188px;top:799.48px;width:2px;height:12.639999999999999px;background:#4d8f3d;"></div>
<div class="t" style="top:801.85px;font-size:10.2px;color:#eef0f1;font-weight:400;letter-spacing:-0.45px;left:-323.05px;width:600px;text-align:right;"><b style="color:#eef0f1">1.64783954</b><span style="color:#4c5760"></span></div>
<div class="t" style="top:801.85px;font-size:10.2px;color:#8cf36a;font-weight:400;letter-spacing:-0.45px;left:-244.75px;width:600px;text-align:right;"><span style="color:#5caa49">2263.</span><b style="color:#8cf36a">00</b></div>
<div class="t" style="top:802.35px;font-size:10.2px;color:#eef0f1;font-weight:400;left:133.00px;width:600px;text-align:center;">-</div>
<div class="r" style="left:188px;top:812.02px;width:2px;height:12.639999999999999px;background:#4d8f3d;"></div>
<div class="t" style="top:814.39px;font-size:10.2px;color:#eef0f1;font-weight:400;letter-spacing:-0.45px;left:-323.05px;width:600px;text-align:right;"><b style="color:#eef0f1">1.37</b><span style="color:#4c5760">000000</span></div>
<div class="t" style="top:814.39px;font-size:10.2px;color:#8cf36a;font-weight:400;letter-spacing:-0.45px;left:-244.75px;width:600px;text-align:right;"><span style="color:#5caa49">2262.</span><b style="color:#8cf36a">04</b></div>
<div class="t" style="top:814.89px;font-size:10.2px;color:#eef0f1;font-weight:400;left:133.00px;width:600px;text-align:center;">-</div>
<div class="r" style="left:188px;top:824.56px;width:1px;height:12.639999999999999px;background:#4d8f3d;"></div>
<div class="t" style="top:826.93px;font-size:10.2px;color:#eef0f1;font-weight:400;letter-spacing:-0.45px;left:-323.05px;width:600px;text-align:right;"><b style="color:#eef0f1">0.12</b><span style="color:#4c5760">000000</span></div>
<div class="t" style="top:826.93px;font-size:10.2px;color:#8cf36a;font-weight:400;letter-spacing:-0.45px;left:-244.75px;width:600px;text-align:right;"><span style="color:#5caa49">2261.</span><b style="color:#8cf36a">77</b></div>
<div class="t" style="top:827.43px;font-size:10.2px;color:#eef0f1;font-weight:400;left:133.00px;width:600px;text-align:center;">-</div>
<div class="r" style="left:188px;top:837.1px;width:4px;height:12.639999999999999px;background:#4f9a3c;"></div>
<div class="t" style="top:839.47px;font-size:10.2px;color:#eef0f1;font-weight:400;letter-spacing:-0.45px;left:-323.05px;width:600px;text-align:right;"><b style="color:#eef0f1">4.0</b><span style="color:#4c5760">0000000</span></div>
<div class="t" style="top:839.47px;font-size:10.2px;color:#8cf36a;font-weight:400;letter-spacing:-0.45px;left:-244.75px;width:600px;text-align:right;"><span style="color:#5caa49">2261.</span><b style="color:#8cf36a">32</b></div>
<div class="t" style="top:839.97px;font-size:10.2px;color:#eef0f1;font-weight:400;left:133.00px;width:600px;text-align:center;">-</div>
<div class="r" style="left:188px;top:849.64px;width:1px;height:12.639999999999999px;background:#4d8f3d;"></div>
<div class="t" style="top:852.01px;font-size:10.2px;color:#eef0f1;font-weight:400;letter-spacing:-0.45px;left:-323.05px;width:600px;text-align:right;"><b style="color:#eef0f1">0.04</b><span style="color:#4c5760">000000</span></div>
<div class="t" style="top:852.01px;font-size:10.2px;color:#8cf36a;font-weight:400;letter-spacing:-0.45px;left:-244.75px;width:600px;text-align:right;"><span style="color:#5caa49">2261.</span><b style="color:#8cf36a">00</b></div>
<div class="t" style="top:852.51px;font-size:10.2px;color:#eef0f1;font-weight:400;left:133.00px;width:600px;text-align:center;">-</div>
<div class="r" style="left:188px;top:862.18px;width:1px;height:12.639999999999999px;background:#4d8f3d;"></div>
<div class="t" style="top:864.55px;font-size:10.2px;color:#eef0f1;font-weight:400;letter-spacing:-0.45px;left:-323.05px;width:600px;text-align:right;"><b style="color:#eef0f1">0.35</b><span style="color:#4c5760">000000</span></div>
<div class="t" style="top:864.55px;font-size:10.2px;color:#8cf36a;font-weight:400;letter-spacing:-0.45px;left:-244.75px;width:600px;text-align:right;"><span style="color:#5caa49">2260.</span><b style="color:#8cf36a">64</b></div>
<div class="t" style="top:865.05px;font-size:10.2px;color:#eef0f1;font-weight:400;left:133.00px;width:600px;text-align:center;">-</div>
<div class="r" style="left:188px;top:874.72px;width:1px;height:12.639999999999999px;background:#4d8f3d;"></div>
<div class="t" style="top:877.09px;font-size:10.2px;color:#eef0f1;font-weight:400;letter-spacing:-0.45px;left:-323.05px;width:600px;text-align:right;"><b style="color:#eef0f1">0.5</b><span style="color:#4c5760">0000000</span></div>
<div class="t" style="top:877.09px;font-size:10.2px;color:#8cf36a;font-weight:400;letter-spacing:-0.45px;left:-244.75px;width:600px;text-align:right;"><span style="color:#5caa49">2260.</span><b style="color:#8cf36a">51</b></div>
<div class="t" style="top:877.59px;font-size:10.2px;color:#eef0f1;font-weight:400;left:133.00px;width:600px;text-align:center;">-</div>
<div class="r" style="left:188px;top:887.26px;width:2px;height:12.639999999999999px;background:#4d8f3d;"></div>
<div class="t" style="top:889.63px;font-size:10.2px;color:#eef0f1;font-weight:400;letter-spacing:-0.45px;left:-323.05px;width:600px;text-align:right;"><b style="color:#eef0f1">2.4</b><span style="color:#4c5760">0000000</span></div>
<div class="t" style="top:889.63px;font-size:10.2px;color:#8cf36a;font-weight:400;letter-spacing:-0.45px;left:-244.75px;width:600px;text-align:right;"><span style="color:#5caa49">2260.</span><b style="color:#8cf36a">00</b></div>
<div class="t" style="top:890.13px;font-size:10.2px;color:#eef0f1;font-weight:400;left:133.00px;width:600px;text-align:center;">-</div>
<div class="r" style="left:188px;top:899.8px;width:1px;height:12.639999999999999px;background:#4d8f3d;"></div>
<div class="t" style="top:902.17px;font-size:10.2px;color:#eef0f1;font-weight:400;letter-spacing:-0.45px;left:-323.05px;width:600px;text-align:right;"><b style="color:#eef0f1">1.05895716</b><span style="color:#4c5760"></span></div>
<div class="t" style="top:902.17px;font-size:10.2px;color:#8cf36a;font-weight:400;letter-spacing:-0.45px;left:-244.75px;width:600px;text-align:right;"><span style="color:#5caa49">2259.</span><b style="color:#8cf36a">24</b></div>
<div class="t" style="top:902.67px;font-size:10.2px;color:#eef0f1;font-weight:400;left:133.00px;width:600px;text-align:center;">-</div>
<div class="r" style="left:464px;top:36px;width:902px;height:36px;background:#313d45;"></div>
<div class="r" style="left:1366px;top:36px;width:1px;height:876px;background:#151d23;"></div>
<div class="t" style="top:49.69px;font-size:11.0px;color:#eef0f1;font-weight:700;left:472.50px;-webkit-text-stroke:0.35px #ffffff;">PRICE CHART</div>
<div class="r" style="left:464px;top:72px;width:902px;height:24px;background:#1f2a32;"></div>
<div class="r" style="left:464px;top:72px;width:902px;height:1px;background:#1a232a;"></div>
<div class="t" style="top:80.04px;font-size:9.4px;color:#d9dcde;font-weight:700;left:472.50px;">Line</div>
<svg style="left:497.5px;top:83.8px" width="8" height="6"><polygon points="0,0.3 7,0.3 3.5,4.5" fill="#d9dcde"/></svg>
<div class="t" style="top:80.04px;font-size:9.4px;color:#d9dcde;font-weight:700;left:525.00px;">6h</div>
<svg style="left:542.7px;top:83.8px" width="8" height="6"><polygon points="0,0.3 7,0.3 3.5,4.5" fill="#d9dcde"/></svg>
<div class="r" style="left:464px;top:96px;width:902px;height:1px;background:#45515a;"></div>
<svg style="left:464px;top:97px" width="902" height="254" viewBox="464 97 902 254">
<defs><linearGradient id="ag" x1="0" y1="104" x2="0" y2="280" gradientUnits="userSpaceOnUse"><stop offset="0" stop-color="#f39a3c" stop-opacity="0.37"/><stop offset="1" stop-color="#f39a3c" stop-opacity="0.0"/></linearGradient>
<clipPath id="cp"><rect x="464" y="104" width="902" height="250"/></clipPath></defs>
<g clip-path="url(#cp)">
<polygon points="464,328.5 464.1,310.2 468.1,317.4 471.1,315.1 474.6,306.3 478.7,308.1 482.2,308.6 485.7,312.5 489.2,318.6 492.7,327.7 496.2,314.2 499.7,311.9 503.8,310.4 507.3,308.1 510.8,309 513.8,301.9 517.8,286.1 521.6,293.7 525.2,294.9 529.5,294.6 532.2,292.3 535.7,288.4 542.7,288.8 549.7,292.3 556.7,288.8 563.8,287.9 572.5,287.4 581.3,287.5 585.7,290.2 592.7,292.3 599.7,283.5 603.2,284 606.7,283 611.1,290.9 613.8,291.8 618.1,299.3 621.6,296.7 632.2,296.3 635.7,299.6 639.2,295.8 642.7,295.8 646.2,286.1 650.6,271.2 654.1,269.5 657.6,255.4 661.1,250.4 664.6,243.3 668.7,237.2 675.5,207.7 678.7,222.3 682.2,221.4 686.6,214.9 690.1,211.2 693.2,209.6 697.1,194.2 700.3,194.2 704.1,202.6 707.6,197.7 711.1,200 715,196.8 718.5,210 721.7,211 726,216.5 729.2,217.9 732.7,232.8 736.2,229.3 740.1,228.8 743.6,230.5 747.1,230.5 750.6,227.9 754.1,205.6 757.6,203.3 761.5,178.4 765.5,172.3 769,167.4 771.7,167.4 775.7,159.5 779.6,164.7 783.1,146.8 786.6,143.3 793.6,139.5 797.1,132.8 801.1,128.8 804.1,129.6 808.2,130.2 811.5,140.7 815,124.9 818.7,125.3 822.5,135.4 829.2,145.1 833.1,147.7 840.1,159.5 847.1,159.5 850.6,152.1 854.4,146.5 858.8,152.3 861.9,152.3 865.8,157.9 869.3,152.1 876.3,152.1 879.8,162.3 883.3,153.2 890.7,152.3 894.2,162.6 897.4,160 900.9,160 904.9,166.3 908.8,157.5 912.3,157 915.8,154.9 922.5,154.9 926.3,167.5 929.8,169 936,168.4 940.4,173.3 944.7,170.5 947.9,170.5 951.4,168.4 955.3,154.9 958.4,155.3 962.3,161.1 965.8,155.6 975.4,155.6 980.2,160.5 984.2,160 986.8,157.4 998.2,157.4 1001.8,160.5 1005.3,160.9 1008.8,169.3 1013.2,169.6 1033.3,168.4 1040.4,165.3 1044.4,160.5 1048.1,164.5 1051.9,159.9 1061.9,159.4 1066.5,154.8 1069.6,154.8 1073.4,146.1 1076.5,145.6 1087.2,113.8 1091.1,115.4 1094.2,115.8 1098.8,123.8 1101.8,125.3 1105.7,113.8 1108.7,114.3 1112.6,118.4 1116.4,126.1 1120,123 1123.8,116.1 1127.2,117.2 1130.3,126.9 1134.1,153.8 1144.8,231.3 1148.7,221.4 1159,154.5 1162.5,154.8 1166.8,162.2 1170.2,179.9 1173.3,178.3 1176.8,169.4 1181,179.9 1184,179.9 1187.9,194.5 1191.7,197.8 1194.8,183.7 1198.6,188 1201.7,185.3 1205.9,175.8 1208.9,175 1215.8,170.5 1219.7,159.6 1224.7,149.7 1227.6,148.2 1231.2,149.1 1235.1,153.7 1238.5,169.5 1241.8,170.9 1245.8,179 1249,181.7 1255.9,190.2 1259.2,183.7 1263.2,190.2 1267.1,211.9 1271.1,219.8 1274,222.4 1280.9,221.4 1284.5,235 1287.8,222.4 1291.8,226.1 1295.7,226.7 1303.6,234.2 1309.6,235.2 1313.5,237.6 1316.5,298.8 1320.4,284 1324.4,291.9 1324.4,328.5" fill="url(#ag)"/>
<rect x="465.20" y="313" width="33.2" height="15.50" fill="#3b454c" fill-opacity="0.92"/>
<rect x="501.05" y="303" width="33.2" height="25.50" fill="#3b454c" fill-opacity="0.92"/>
<rect x="536.90" y="319" width="33.2" height="9.50" fill="#3b454c" fill-opacity="0.92"/>
<rect x="572.75" y="312" width="33.2" height="16.50" fill="#3b454c" fill-opacity="0.92"/>
<rect x="608.60" y="309" width="33.2" height="19.50" fill="#3b454c" fill-opacity="0.92"/>
<rect x="644.45" y="266.5" width="33.2" height="62.00" fill="#3b454c" fill-opacity="0.92"/>
<rect x="680.30" y="264" width="33.2" height="64.50" fill="#3b454c" fill-opacity="0.92"/>
<rect x="716.15" y="298.6" width="33.2" height="29.90" fill="#3b454c" fill-opacity="0.92"/>
<rect x="752.00" y="272.6" width="33.2" height="55.90" fill="#3b454c" fill-opacity="0.92"/>
<rect x="787.85" y="292" width="33.2" height="36.50" fill="#3b454c" fill-opacity="0.92"/>
<rect x="823.70" y="289" width="33.2" height="39.50" fill="#3b454c" fill-opacity="0.92"/>
<rect x="859.55" y="307" width="33.2" height="21.50" fill="#3b454c" fill-opacity="0.92"/>
<rect x="895.40" y="302" width="33.2" height="26.50" fill="#3b454c" fill-opacity="0.92"/>
<rect x="931.25" y="298.7" width="33.2" height="29.80" fill="#3b454c" fill-opacity="0.92"/>
<rect x="967.10" y="307" width="33.2" height="21.50" fill="#3b454c" fill-opacity="0.92"/>
<rect x="1002.95" y="302" width="33.2" height="26.50" fill="#3b454c" fill-opacity="0.92"/>
<rect x="1038.80" y="311.5" width="33.2" height="17.00" fill="#3b454c" fill-opacity="0.92"/>
<rect x="1074.65" y="253.8" width="33.2" height="74.70" fill="#3b454c" fill-opacity="0.92"/>
<rect x="1110.50" y="258" width="33.2" height="70.50" fill="#3b454c" fill-opacity="0.92"/>
<rect x="1146.35" y="268" width="33.2" height="60.50" fill="#3b454c" fill-opacity="0.92"/>
<rect x="1182.20" y="297.6" width="33.2" height="30.90" fill="#3b454c" fill-opacity="0.92"/>
<rect x="1218.05" y="307" width="33.2" height="21.50" fill="#3b454c" fill-opacity="0.92"/>
<rect x="1253.90" y="294.8" width="33.2" height="33.70" fill="#3b454c" fill-opacity="0.92"/>
<rect x="1289.75" y="271" width="33.2" height="57.50" fill="#3b454c" fill-opacity="0.92"/>
<rect x="464" y="328" width="859" height="1" fill="#4b565f"/>
<rect x="488.50" y="329" width="1" height="5" fill="#4b565f"/>
<text x="489.00" y="343.2" text-anchor="middle" style="font-family:'Liberation Sans',sans-serif;font-size:8.6px;font-weight:700" fill="#c3c8cb">1 PM</text>
<rect x="560.10" y="329" width="1" height="5" fill="#4b565f"/>
<text x="560.60" y="343.2" text-anchor="middle" style="font-family:'Liberation Sans',sans-serif;font-size:8.6px;font-weight:700" fill="#c3c8cb">1:30 PM</text>
<rect x="631.70" y="329" width="1" height="5" fill="#4b565f"/>
<text x="632.20" y="343.2" text-anchor="middle" style="font-family:'Liberation Sans',sans-serif;font-size:8.6px;font-weight:700" fill="#c3c8cb">2 PM</text>
<rect x="703.30" y="329" width="1" height="5" fill="#4b565f"/>
<text x="703.80" y="343.2" text-anchor="middle" style="font-family:'Liberation Sans',sans-serif;font-size:8.6px;font-weight:700" fill="#c3c8cb">2:30 PM</text>
<rect x="774.90" y="329" width="1" height="5" fill="#4b565f"/>
<text x="775.40" y="343.2" text-anchor="middle" style="font-family:'Liberation Sans',sans-serif;font-size:8.6px;font-weight:700" fill="#c3c8cb">3 PM</text>
<rect x="846.50" y="329" width="1" height="5" fill="#4b565f"/>
<text x="847.00" y="343.2" text-anchor="middle" style="font-family:'Liberation Sans',sans-serif;font-size:8.6px;font-weight:700" fill="#c3c8cb">3:30 PM</text>
<rect x="918.10" y="329" width="1" height="5" fill="#4b565f"/>
<text x="918.60" y="343.2" text-anchor="middle" style="font-family:'Liberation Sans',sans-serif;font-size:8.6px;font-weight:700" fill="#c3c8cb">4 PM</text>
<rect x="989.70" y="329" width="1" height="5" fill="#4b565f"/>
<text x="990.20" y="343.2" text-anchor="middle" style="font-family:'Liberation Sans',sans-serif;font-size:8.6px;font-weight:700" fill="#c3c8cb">4:30 PM</text>
<rect x="1061.30" y="329" width="1" height="5" fill="#4b565f"/>
<text x="1061.80" y="343.2" text-anchor="middle" style="font-family:'Liberation Sans',sans-serif;font-size:8.6px;font-weight:700" fill="#c3c8cb">5 PM</text>
<rect x="1132.90" y="329" width="1" height="5" fill="#4b565f"/>
<text x="1133.40" y="343.2" text-anchor="middle" style="font-family:'Liberation Sans',sans-serif;font-size:8.6px;font-weight:700" fill="#c3c8cb">5:30 PM</text>
<rect x="1204.50" y="329" width="1" height="5" fill="#4b565f"/>
<text x="1205.00" y="343.2" text-anchor="middle" style="font-family:'Liberation Sans',sans-serif;font-size:8.6px;font-weight:700" fill="#c3c8cb">6 PM</text>
<rect x="1276.10" y="329" width="1" height="5" fill="#4b565f"/>
<text x="1276.60" y="343.2" text-anchor="middle" style="font-family:'Liberation Sans',sans-serif;font-size:8.6px;font-weight:700" fill="#c3c8cb">6:30 PM</text>
<text x="1349.6" y="108.15" text-anchor="end" style="font-family:'Liberation Sans',sans-serif;font-size:8.6px;font-weight:700" fill="#c3c8cb">$2,360</text>
<text x="1349.6" y="152.90" text-anchor="end" style="font-family:'Liberation Sans',sans-serif;font-size:8.6px;font-weight:700" fill="#c3c8cb">$2,340</text>
<text x="1349.6" y="197.65" text-anchor="end" style="font-family:'Liberation Sans',sans-serif;font-size:8.6px;font-weight:700" fill="#c3c8cb">$2,320</text>
<text x="1349.6" y="242.40" text-anchor="end" style="font-family:'Liberation Sans',sans-serif;font-size:8.6px;font-weight:700" fill="#c3c8cb">$2,300</text>
<text x="1349.6" y="287.15" text-anchor="end" style="font-family:'Liberation Sans',sans-serif;font-size:8.6px;font-weight:700" fill="#c3c8cb">$2,280</text>
<text x="1349.6" y="331.90" text-anchor="end" style="font-family:'Liberation Sans',sans-serif;font-size:8.6px;font-weight:700" fill="#c3c8cb">$2,260</text>
<polyline points="464.1,310.2 468.1,317.4 471.1,315.1 474.6,306.3 478.7,308.1 482.2,308.6 485.7,312.5 489.2,318.6 492.7,327.7 496.2,314.2 499.7,311.9 503.8,310.4 507.3,308.1 510.8,309 513.8,301.9 517.8,286.1 521.6,293.7 525.2,294.9 529.5,294.6 532.2,292.3 535.7,288.4 542.7,288.8 549.7,292.3 556.7,288.8 563.8,287.9 572.5,287.4 581.3,287.5 585.7,290.2 592.7,292.3 599.7,283.5 603.2,284 606.7,283 611.1,290.9 613.8,291.8 618.1,299.3 621.6,296.7 632.2,296.3 635.7,299.6 639.2,295.8 642.7,295.8 646.2,286.1 650.6,271.2 654.1,269.5 657.6,255.4 661.1,250.4 664.6,243.3 668.7,237.2 675.5,207.7 678.7,222.3 682.2,221.4 686.6,214.9 690.1,211.2 693.2,209.6 697.1,194.2 700.3,194.2 704.1,202.6 707.6,197.7 711.1,200 715,196.8 718.5,210 721.7,211 726,216.5 729.2,217.9 732.7,232.8 736.2,229.3 740.1,228.8 743.6,230.5 747.1,230.5 750.6,227.9 754.1,205.6 757.6,203.3 761.5,178.4 765.5,172.3 769,167.4 771.7,167.4 775.7,159.5 779.6,164.7 783.1,146.8 786.6,143.3 793.6,139.5 797.1,132.8 801.1,128.8 804.1,129.6 808.2,130.2 811.5,140.7 815,124.9 818.7,125.3 822.5,135.4 829.2,145.1 833.1,147.7 840.1,159.5 847.1,159.5 850.6,152.1 854.4,146.5 858.8,152.3 861.9,152.3 865.8,157.9 869.3,152.1 876.3,152.1 879.8,162.3 883.3,153.2 890.7,152.3 894.2,162.6 897.4,160 900.9,160 904.9,166.3 908.8,157.5 912.3,157 915.8,154.9 922.5,154.9 926.3,167.5 929.8,169 936,168.4 940.4,173.3 944.7,170.5 947.9,170.5 951.4,168.4 955.3,154.9 958.4,155.3 962.3,161.1 965.8,155.6 975.4,155.6 980.2,160.5 984.2,160 986.8,157.4 998.2,157.4 1001.8,160.5 1005.3,160.9 1008.8,169.3 1013.2,169.6 1033.3,168.4 1040.4,165.3 1044.4,160.5 1048.1,164.5 1051.9,159.9 1061.9,159.4 1066.5,154.8 1069.6,154.8 1073.4,146.1 1076.5,145.6 1087.2,113.8 1091.1,115.4 1094.2,115.8 1098.8,123.8 1101.8,125.3 1105.7,113.8 1108.7,114.3 1112.6,118.4 1116.4,126.1 1120,123 1123.8,116.1 1127.2,117.2 1130.3,126.9 1134.1,153.8 1144.8,231.3 1148.7,221.4 1159,154.5 1162.5,154.8 1166.8,162.2 1170.2,179.9 1173.3,178.3 1176.8,169.4 1181,179.9 1184,179.9 1187.9,194.5 1191.7,197.8 1194.8,183.7 1198.6,188 1201.7,185.3 1205.9,175.8 1208.9,175 1215.8,170.5 1219.7,159.6 1224.7,149.7 1227.6,148.2 1231.2,149.1 1235.1,153.7 1238.5,169.5 1241.8,170.9 1245.8,179 1249,181.7 1255.9,190.2 1259.2,183.7 1263.2,190.2 1267.1,211.9 1271.1,219.8 1274,222.4 1280.9,221.4 1284.5,235 1287.8,222.4 1291.8,226.1 1295.7,226.7 1303.6,234.2 1309.6,235.2 1313.5,237.6 1316.5,298.8 1320.4,284 1324.4,291.9" fill="none" stroke="#f5a03e" stroke-width="1.7" stroke-linejoin="round"/>
<path d="M1324,292.5 L1329.3,284.5 L1364.5,284.5 L1364.5,301 L1329.3,301 Z" fill="#1e2a33" stroke="#ffffff" stroke-width="1.1"/>
<text x="1345.6" y="295.8" text-anchor="middle" style="font-family:'Liberation Sans',sans-serif;font-size:8.5px;font-weight:700;letter-spacing:-0.5px" stroke="#ffffff" stroke-width="0.25" fill="#ffffff">$2,276.30</text>
</g>
<rect x="464" y="349.5" width="902" height="1.5" fill="#182229"/>
</svg>
<svg style="left:464px;top:351px" width="902" height="174" viewBox="464 351 902 174">
<polygon points="464,506.7 464.3,405.5 481.6,406.6 484.4,408 503,409 511,409.5 513,411.8 534.8,412.7 560.6,415 563.5,417 609.5,418.4 622.4,419 623.3,445.7 641.7,446.9 643,477.4 655.5,478.5 658.4,486.6 662.7,488.9 690,491 694.3,492.3 710,493.8 713,495.2 756,498 759,499.5 779,501 831,503.8 862.5,504.7 894,505.8 915,506.7 915,506.7" fill="#2f4a3a"/>
<polygon points="915,506.7 915,506.6 923.5,506.6 923.5,500.4 944,500.4 944,398.5 967.6,397.9 972,396.4 1047,393.5 1048.4,386.7 1143.8,380.8 1193.8,378.8 1343.6,372 1346.5,369 1366,367 1366,506.7" fill="#4a3535"/>
<polyline points="464.3,405.5 481.6,406.6 484.4,408 503,409 511,409.5 513,411.8 534.8,412.7 560.6,415 563.5,417 609.5,418.4 622.4,419 623.3,445.7 641.7,446.9 643,477.4 655.5,478.5 658.4,486.6 662.7,488.9 690,491 694.3,492.3 710,493.8 713,495.2 756,498 759,499.5 779,501 831,503.8 862.5,504.7 894,505.8 915,506.7" fill="none" stroke="#84f466" stroke-width="1.6"/>
<polyline points="915,506.6 923.5,506.6 923.5,500.4 944,500.4 944,398.5 967.6,397.9 972,396.4 1047,393.5 1048.4,386.7 1143.8,380.8 1193.8,378.8 1343.6,372 1346.5,369 1366,367" fill="none" stroke="#f46b3f" stroke-width="1.6"/>
<rect x="914.5" y="435.5" width="1" height="71" fill="#56616a"/>
<rect x="464" y="375.90" width="5" height="1" fill="#56616a"/>
<text x="470.8" y="379.10" style="font-family:'Liberation Sans',sans-serif;font-size:8.6px;font-weight:700" fill="#c3c8cb">300</text>
<rect x="1361" y="375.90" width="5" height="1" fill="#56616a"/>
<text x="1358.5" y="379.10" text-anchor="end" style="font-family:'Liberation Sans',sans-serif;font-size:8.6px;font-weight:700" fill="#c3c8cb">300</text>
<rect x="464" y="419.35" width="5" height="1" fill="#56616a"/>
<text x="470.8" y="422.55" style="font-family:'Liberation Sans',sans-serif;font-size:8.6px;font-weight:700" fill="#c3c8cb">200</text>
<rect x="1361" y="419.35" width="5" height="1" fill="#56616a"/>
<text x="1358.5" y="422.55" text-anchor="end" style="font-family:'Liberation Sans',sans-serif;font-size:8.6px;font-weight:700" fill="#c3c8cb">200</text>
<rect x="464" y="462.80" width="5" height="1" fill="#56616a"/>
<text x="470.8" y="466.00" style="font-family:'Liberation Sans',sans-serif;font-size:8.6px;font-weight:700" fill="#c3c8cb">100</text>
<rect x="1361" y="462.80" width="5" height="1" fill="#56616a"/>
<text x="1358.5" y="466.00" text-anchor="end" style="font-family:'Liberation Sans',sans-serif;font-size:8.6px;font-weight:700" fill="#c3c8cb">100</text>
<rect x="464" y="506.25" width="5" height="1" fill="#56616a"/>
<text x="470.8" y="509.45" style="font-family:'Liberation Sans',sans-serif;font-size:8.6px;font-weight:700" fill="#c3c8cb">0</text>
<rect x="1361" y="506.25" width="5" height="1" fill="#56616a"/>
<text x="1358.5" y="509.45" text-anchor="end" style="font-family:'Liberation Sans',sans-serif;font-size:8.6px;font-weight:700" fill="#c3c8cb">0</text>
<rect x="464" y="506.7" width="902" height="1" fill="#56616a"/>
<rect x="471.50" y="507.7" width="1" height="4" fill="#56616a"/>
<text x="472.00" y="521.3" text-anchor="middle" style="font-family:'Liberation Sans',sans-serif;font-size:8.8px;font-weight:700" fill="#e6e9eb">$2,233</text>
<rect x="551.80" y="507.7" width="1" height="4" fill="#56616a"/>
<text x="552.30" y="521.3" text-anchor="middle" style="font-family:'Liberation Sans',sans-serif;font-size:8.8px;font-weight:700" fill="#e6e9eb">$2,241</text>
<rect x="632.10" y="507.7" width="1" height="4" fill="#56616a"/>
<text x="632.60" y="521.3" text-anchor="middle" style="font-family:'Liberation Sans',sans-serif;font-size:8.8px;font-weight:700" fill="#e6e9eb">$2,249</text>
<rect x="712.40" y="507.7" width="1" height="4" fill="#56616a"/>
<text x="712.90" y="521.3" text-anchor="middle" style="font-family:'Liberation Sans',sans-serif;font-size:8.8px;font-weight:700" fill="#e6e9eb">$2,257</text>
<rect x="792.70" y="507.7" width="1" height="4" fill="#56616a"/>
<text x="793.20" y="521.3" text-anchor="middle" style="font-family:'Liberation Sans',sans-serif;font-size:8.8px;font-weight:700" fill="#e6e9eb">$2,265</text>
<rect x="873.00" y="507.7" width="1" height="4" fill="#56616a"/>
<text x="873.50" y="521.3" text-anchor="middle" style="font-family:'Liberation Sans',sans-serif;font-size:8.8px;font-weight:700" fill="#e6e9eb">$2,273</text>
<rect x="953.30" y="507.7" width="1" height="4" fill="#56616a"/>
<text x="953.80" y="521.3" text-anchor="middle" style="font-family:'Liberation Sans',sans-serif;font-size:8.8px;font-weight:700" fill="#e6e9eb">$2,281</text>
<rect x="1033.60" y="507.7" width="1" height="4" fill="#56616a"/>
<text x="1034.10" y="521.3" text-anchor="middle" style="font-family:'Liberation Sans',sans-serif;font-size:8.8px;font-weight:700" fill="#e6e9eb">$2,289</text>
<rect x="1113.90" y="507.7" width="1" height="4" fill="#56616a"/>
<text x="1114.40" y="521.3" text-anchor="middle" style="font-family:'Liberation Sans',sans-serif;font-size:8.8px;font-weight:700" fill="#e6e9eb">$2,297</text>
<rect x="1194.20" y="507.7" width="1" height="4" fill="#56616a"/>
<text x="1194.70" y="521.3" text-anchor="middle" style="font-family:'Liberation Sans',sans-serif;font-size:8.8px;font-weight:700" fill="#e6e9eb">$2,305</text>
<rect x="1274.50" y="507.7" width="1" height="4" fill="#56616a"/>
<text x="1275.00" y="521.3" text-anchor="middle" style="font-family:'Liberation Sans',sans-serif;font-size:8.8px;font-weight:700" fill="#e6e9eb">$2,313</text>
<rect x="1354.80" y="507.7" width="1" height="4" fill="#56616a"/>
<text x="1355.30" y="521.3" text-anchor="middle" style="font-family:'Liberation Sans',sans-serif;font-size:8.8px;font-weight:700" fill="#e6e9eb">$2,321</text>
</svg>
<svg style="left:851px;top:367px" width="20" height="20"><circle cx="9.5" cy="9" r="6.6" fill="none" stroke="#c9cdd0" stroke-width="1.3"/><rect x="5.8" y="8.35" width="7.4" height="1.3" fill="#c9cdd0"/></svg>
<svg style="left:959px;top:367px" width="20" height="20"><circle cx="9.5" cy="9" r="6.6" fill="none" stroke="#c9cdd0" stroke-width="1.3"/><rect x="5.8" y="8.35" width="7.4" height="1.3" fill="#c9cdd0"/><rect x="8.85" y="5.3" width="1.3" height="7.4" fill="#c9cdd0"/></svg>
<div class="t" style="left:815px;width:200px;text-align:center;top:363.2px;font-size:15.6px;font-weight:700;color:#ffffff">2,277.110</div>
<div class="t" style="left:815px;width:200px;text-align:center;top:382.2px;font-size:7.9px;color:#8d959b">Mid Market Price</div>
<div class="r" style="left:464px;top:524px;width:902px;height:1px;background:#182229"></div>
<div class="r" style="left:464px;top:525px;width:902px;height:36px;background:#1f2a32"></div>
<div class="r" style="left:464px;top:561px;width:902px;height:23px;background:#1c272f"></div>
<div class="r" style="left:464px;top:584px;width:902px;height:1px;background:#26323a"></div>
<div class="r" style="left:464px;top:585px;width:902px;height:327px;background:#1b262d"></div>
<div class="r" style="left:1006px;top:525px;width:1px;height:60px;background:#18222a"></div>
<div class="t" style="left:472.5px;top:538.2px;font-size:11.2px;font-weight:700;color:#6c767d">OPEN ORDERS</div>
<div class="t" style="left:1014.6px;top:538.2px;font-size:11.2px;font-weight:700;color:#6c767d">FILLS</div>
<div class="t" style="left:286px;width:300px;text-align:right;top:568.3px;font-size:9px;color:#5c666d">Size</div>
<div class="t" style="left:391px;width:300px;text-align:right;top:568.3px;font-size:9px;color:#5c666d">Filled <span style="font-size:6.8px">(BTC)</span></div>
<div class="t" style="left:469.4px;width:300px;text-align:right;top:568.3px;font-size:9px;color:#5c666d">Price <span style="font-size:6.8px">(USD)</span></div>
<div class="t" style="left:548px;width:300px;text-align:right;top:568.3px;font-size:9px;color:#5c666d">Fee <span style="font-size:6.8px">(USD)</span></div>
<div class="t" style="left:626.4px;width:300px;text-align:right;top:568.3px;font-size:9px;color:#5c666d">Time</div>
<div class="t" style="left:688.4px;width:300px;text-align:right;top:568.3px;font-size:9px;color:#5c666d">Status</div>
<div class="t" style="left:784.5999999999999px;width:300px;text-align:right;top:568.3px;font-size:9px;color:#5c666d">Size <span style="font-size:6.8px">(BTC)</span></div>
<div class="t" style="left:838.5999999999999px;width:300px;text-align:right;top:568.3px;font-size:9px;color:#5c666d">Price <span style="font-size:6.8px">(USD)</span></div>
<div class="t" style="left:889px;width:300px;text-align:right;top:568.3px;font-size:9px;color:#5c666d">Fee <span style="font-size:6.8px">(USD)</span></div>
<div class="t" style="left:979.7px;width:300px;text-align:right;top:568.3px;font-size:9px;color:#5c666d">Time</div>
<div class="t" style="left:1056px;width:300px;text-align:right;top:568.3px;font-size:9px;color:#5c666d">Product</div>
<div class="t" style="left:634px;width:200px;text-align:center;top:743.3px;font-size:9.85px;font-weight:700;color:#2c383f">You have no BTC/USD orders</div>
<div class="t" style="left:1086px;width:200px;text-align:center;top:743.3px;font-size:9.85px;font-weight:700;color:#2c383f">You have no BTC/USD fills</div>
<div class="r" style="left:1367px;top:36px;width:233px;height:36px;background:#313d45;"></div>
<div class="t" style="top:49.52px;font-size:11.2px;color:#eef0f1;font-weight:700;left:1376.50px;-webkit-text-stroke:0.35px #ffffff;">TRADE HISTORY</div>
<div class="r" style="left:1367px;top:72px;width:233px;height:24px;background:#1f2a32;"></div>
<div class="r" style="left:1367px;top:72px;width:233px;height:1px;background:#1a232a;"></div>
<div class="t" style="top:79.71px;font-size:9.2px;color:#c5c9cc;font-weight:400;left:850.50px;width:600px;text-align:right;">Trade Size</div>
<div class="t" style="top:79.88px;font-size:9.0px;color:#c5c9cc;font-weight:400;left:918.50px;width:600px;text-align:right;">Price (USD)</div>
<div class="t" style="top:79.46px;font-size:9.5px;color:#c5c9cc;font-weight:400;left:986.30px;width:600px;text-align:right;">Time</div>
<div class="r" style="left:1367px;top:96px;width:233px;height:1px;background:#45515a;"></div>
<div class="r" style="left:1367px;top:97.0px;width:1px;height:12.639999999999999px;background:#8d4a37;"></div>
<div class="t" style="top:99.37px;font-size:10.2px;color:#eef0f1;font-weight:400;letter-spacing:-0.45px;left:850.75px;width:600px;text-align:right;"><b style="color:#eef0f1">0.07423</b><span style="color:#4c5760">000</span></div>
<div class="t" style="top:99.37px;font-size:10.2px;color:#f46b3f;font-weight:400;letter-spacing:-0.45px;left:919.00px;width:600px;text-align:right;"><span style="color:#b8583b">2276.</span><b style="color:#f46b3f">30</b><svg style="position:static;vertical-align:-1px;margin-left:2px" width="7" height="8" viewBox="0 0 7 8"><path d="M1,1.5 L6,6.5 M6,2.5 L6,6.5 L2,6.5" fill="none" stroke="#f46b3f" stroke-width="1.1"/></svg></div>
<div class="t" style="top:99.37px;font-size:10.2px;color:#a3a9ad;font-weight:400;letter-spacing:-0.45px;left:986.75px;width:600px;text-align:right;">18:50:26</div>
<div class="r" style="left:1367px;top:109.54px;width:1px;height:12.639999999999999px;background:#8d4a37;"></div>
<div class="t" style="top:111.91px;font-size:10.2px;color:#eef0f1;font-weight:400;letter-spacing:-0.45px;left:850.75px;width:600px;text-align:right;"><b style="color:#eef0f1">0.0582</b><span style="color:#4c5760">0000</span></div>
<div class="t" style="top:111.91px;font-size:10.2px;color:#f46b3f;font-weight:400;letter-spacing:-0.45px;left:919.00px;width:600px;text-align:right;"><span style="color:#b8583b">2276.</span><b style="color:#f46b3f">31</b><svg style="position:static;vertical-align:-1px;margin-left:2px" width="7" height="8" viewBox="0 0 7 8"><path d="M1,1.5 L6,6.5 M6,2.5 L6,6.5 L2,6.5" fill="none" stroke="#f46b3f" stroke-width="1.1"/></svg></div>
<div class="t" style="top:111.91px;font-size:10.2px;color:#a3a9ad;font-weight:400;letter-spacing:-0.45px;left:986.75px;width:600px;text-align:right;">18:50:26</div>
<div class="r" style="left:1367px;top:122.08px;width:1px;height:12.639999999999999px;background:#8d4a37;"></div>
<div class="t" style="top:124.45px;font-size:10.2px;color:#eef0f1;font-weight:400;letter-spacing:-0.45px;left:850.75px;width:600px;text-align:right;"><b style="color:#eef0f1">0.01386</b><span style="color:#4c5760">000</span></div>
<div class="t" style="top:124.45px;font-size:10.2px;color:#f46b3f;font-weight:400;letter-spacing:-0.45px;left:919.00px;width:600px;text-align:right;"><span style="color:#b8583b">2276.</span><b style="color:#f46b3f">31</b><svg style="position:static;vertical-align:-1px;margin-left:2px" width="7" height="8" viewBox="0 0 7 8"><path d="M1,1.5 L6,6.5 M6,2.5 L6,6.5 L2,6.5" fill="none" stroke="#f46b3f" stroke-width="1.1"/></svg></div>
<div class="t" style="top:124.45px;font-size:10.2px;color:#a3a9ad;font-weight:400;letter-spacing:-0.45px;left:986.75px;width:600px;text-align:right;">18:50:26</div>
<div class="r" style="left:1367px;top:134.62px;width:1px;height:12.639999999999999px;background:#8d4a37;"></div>
<div class="t" style="top:136.99px;font-size:10.2px;color:#eef0f1;font-weight:400;letter-spacing:-0.45px;left:850.75px;width:600px;text-align:right;"><b style="color:#eef0f1">0.01</b><span style="color:#4c5760">000000</span></div>
<div class="t" style="top:136.99px;font-size:10.2px;color:#f46b3f;font-weight:400;letter-spacing:-0.45px;left:919.00px;width:600px;text-align:right;"><span style="color:#b8583b">2277.</span><b style="color:#f46b3f">89</b><svg style="position:static;vertical-align:-1px;margin-left:2px" width="7" height="8" viewBox="0 0 7 8"><path d="M1,1.5 L6,6.5 M6,2.5 L6,6.5 L2,6.5" fill="none" stroke="#f46b3f" stroke-width="1.1"/></svg></div>
<div class="t" style="top:136.99px;font-size:10.2px;color:#a3a9ad;font-weight:400;letter-spacing:-0.45px;left:986.75px;width:600px;text-align:right;">18:50:26</div>
<div class="r" style="left:1367px;top:147.16px;width:1px;height:12.639999999999999px;background:#4d9a3d;"></div>
<div class="t" style="top:149.53px;font-size:10.2px;color:#eef0f1;font-weight:400;letter-spacing:-0.45px;left:850.75px;width:600px;text-align:right;"><b style="color:#eef0f1">0.07499247</b><span style="color:#4c5760"></span></div>
<div class="t" style="top:149.53px;font-size:10.2px;color:#8cf36a;font-weight:400;letter-spacing:-0.45px;left:919.00px;width:600px;text-align:right;"><span style="color:#5caa49">2277.</span><b style="color:#8cf36a">89</b><svg style="position:static;vertical-align:-1px;margin-left:2px" width="7" height="8" viewBox="0 0 7 8"><path d="M1,6.5 L6,1.5 M2,1.5 L6,1.5 L6,5.5" fill="none" stroke="#8cf36a" stroke-width="1.1"/></svg></div>
<div class="t" style="top:149.53px;font-size:10.2px;color:#a3a9ad;font-weight:400;letter-spacing:-0.45px;left:986.75px;width:600px;text-align:right;">18:50:20</div>
<div class="r" style="left:1367px;top:159.7px;width:2px;height:12.639999999999999px;background:#62d44b;"></div>
<div class="t" style="top:162.07px;font-size:10.2px;color:#eef0f1;font-weight:400;letter-spacing:-0.45px;left:850.75px;width:600px;text-align:right;"><b style="color:#eef0f1">3.1507</b><span style="color:#4c5760">0000</span></div>
<div class="t" style="top:162.07px;font-size:10.2px;color:#8cf36a;font-weight:400;letter-spacing:-0.45px;left:919.00px;width:600px;text-align:right;"><span style="color:#5caa49">2277.</span><b style="color:#8cf36a">96</b><svg style="position:static;vertical-align:-1px;margin-left:2px" width="7" height="8" viewBox="0 0 7 8"><path d="M1,6.5 L6,1.5 M2,1.5 L6,1.5 L6,5.5" fill="none" stroke="#8cf36a" stroke-width="1.1"/></svg></div>
<div class="t" style="top:162.07px;font-size:10.2px;color:#a3a9ad;font-weight:400;letter-spacing:-0.45px;left:986.75px;width:600px;text-align:right;">18:50:08</div>
<div class="r" style="left:1367px;top:172.24px;width:1px;height:12.639999999999999px;background:#4d9a3d;"></div>
<div class="t" style="top:174.61px;font-size:10.2px;color:#eef0f1;font-weight:400;letter-spacing:-0.45px;left:850.75px;width:600px;text-align:right;"><b style="color:#eef0f1">0.1</b><span style="color:#4c5760">0000000</span></div>
<div class="t" style="top:174.61px;font-size:10.2px;color:#8cf36a;font-weight:400;letter-spacing:-0.45px;left:919.00px;width:600px;text-align:right;"><span style="color:#5caa49">2277.</span><b style="color:#8cf36a">96</b><svg style="position:static;vertical-align:-1px;margin-left:2px" width="7" height="8" viewBox="0 0 7 8"><path d="M1,6.5 L6,1.5 M2,1.5 L6,1.5 L6,5.5" fill="none" stroke="#8cf36a" stroke-width="1.1"/></svg></div>
<div class="t" style="top:174.61px;font-size:10.2px;color:#a3a9ad;font-weight:400;letter-spacing:-0.45px;left:986.75px;width:600px;text-align:right;">18:50:08</div>
<div class="r" style="left:1367px;top:184.78px;width:1px;height:12.639999999999999px;background:#4d9a3d;"></div>
<div class="t" style="top:187.15px;font-size:10.2px;color:#eef0f1;font-weight:400;letter-spacing:-0.45px;left:850.75px;width:600px;text-align:right;"><b style="color:#eef0f1">0.1319</b><span style="color:#4c5760">0000</span></div>
<div class="t" style="top:187.15px;font-size:10.2px;color:#8cf36a;font-weight:400;letter-spacing:-0.45px;left:919.00px;width:600px;text-align:right;"><span style="color:#5caa49">2277.</span><b style="color:#8cf36a">95</b><svg style="position:static;vertical-align:-1px;margin-left:2px" width="7" height="8" viewBox="0 0 7 8"><path d="M1,6.5 L6,1.5 M2,1.5 L6,1.5 L6,5.5" fill="none" stroke="#8cf36a" stroke-width="1.1"/></svg></div>
<div class="t" style="top:187.15px;font-size:10.2px;color:#a3a9ad;font-weight:400;letter-spacing:-0.45px;left:986.75px;width:600px;text-align:right;">18:50:08</div>
<div class="r" style="left:1367px;top:197.32px;width:1px;height:12.639999999999999px;background:#4d9a3d;"></div>
<div class="t" style="top:199.69px;font-size:10.2px;color:#eef0f1;font-weight:400;letter-spacing:-0.45px;left:850.75px;width:600px;text-align:right;"><b style="color:#eef0f1">0.01</b><span style="color:#4c5760">000000</span></div>
<div class="t" style="top:199.69px;font-size:10.2px;color:#8cf36a;font-weight:400;letter-spacing:-0.45px;left:919.00px;width:600px;text-align:right;"><span style="color:#5caa49">2278.</span><b style="color:#8cf36a">97</b><svg style="position:static;vertical-align:-1px;margin-left:2px" width="7" height="8" viewBox="0 0 7 8"><path d="M1,6.5 L6,1.5 M2,1.5 L6,1.5 L6,5.5" fill="none" stroke="#8cf36a" stroke-width="1.1"/></svg></div>
<div class="t" style="top:199.69px;font-size:10.2px;color:#a3a9ad;font-weight:400;letter-spacing:-0.45px;left:986.75px;width:600px;text-align:right;">18:50:02</div>
<div class="r" style="left:1367px;top:209.86px;width:1px;height:12.639999999999999px;background:#8d4a37;"></div>
<div class="t" style="top:212.23px;font-size:10.2px;color:#eef0f1;font-weight:400;letter-spacing:-0.45px;left:850.75px;width:600px;text-align:right;"><b style="color:#eef0f1">0.08352</b><span style="color:#4c5760">000</span></div>
<div class="t" style="top:212.23px;font-size:10.2px;color:#f46b3f;font-weight:400;letter-spacing:-0.45px;left:919.00px;width:600px;text-align:right;"><span style="color:#b8583b">2277.</span><b style="color:#f46b3f">01</b><svg style="position:static;vertical-align:-1px;margin-left:2px" width="7" height="8" viewBox="0 0 7 8"><path d="M1,1.5 L6,6.5 M6,2.5 L6,6.5 L2,6.5" fill="none" stroke="#f46b3f" stroke-width="1.1"/></svg></div>
<div class="t" style="top:212.23px;font-size:10.2px;color:#a3a9ad;font-weight:400;letter-spacing:-0.45px;left:986.75px;width:600px;text-align:right;">18:50:00</div>
<div class="r" style="left:1367px;top:222.4px;width:1px;height:12.639999999999999px;background:#8d4a37;"></div>
<div class="t" style="top:224.77px;font-size:10.2px;color:#eef0f1;font-weight:400;letter-spacing:-0.45px;left:850.75px;width:600px;text-align:right;"><b style="color:#eef0f1">0.33871</b><span style="color:#4c5760">000</span></div>
<div class="t" style="top:224.77px;font-size:10.2px;color:#f46b3f;font-weight:400;letter-spacing:-0.45px;left:919.00px;width:600px;text-align:right;"><span style="color:#b8583b">2278.</span><b style="color:#f46b3f">00</b><svg style="position:static;vertical-align:-1px;margin-left:2px" width="7" height="8" viewBox="0 0 7 8"><path d="M1,1.5 L6,6.5 M6,2.5 L6,6.5 L2,6.5" fill="none" stroke="#f46b3f" stroke-width="1.1"/></svg></div>
<div class="t" style="top:224.77px;font-size:10.2px;color:#a3a9ad;font-weight:400;letter-spacing:-0.45px;left:986.75px;width:600px;text-align:right;">18:50:00</div>
<div class="r" style="left:1367px;top:234.94px;width:1px;height:12.639999999999999px;background:#8d4a37;"></div>
<div class="t" style="top:237.31px;font-size:10.2px;color:#eef0f1;font-weight:400;letter-spacing:-0.45px;left:850.75px;width:600px;text-align:right;"><b style="color:#eef0f1">0.01648</b><span style="color:#4c5760">000</span></div>
<div class="t" style="top:237.31px;font-size:10.2px;color:#f46b3f;font-weight:400;letter-spacing:-0.45px;left:919.00px;width:600px;text-align:right;"><span style="color:#b8583b">2278.</span><b style="color:#f46b3f">02</b><svg style="position:static;vertical-align:-1px;margin-left:2px" width="7" height="8" viewBox="0 0 7 8"><path d="M1,1.5 L6,6.5 M6,2.5 L6,6.5 L2,6.5" fill="none" stroke="#f46b3f" stroke-width="1.1"/></svg></div>
<div class="t" style="top:237.31px;font-size:10.2px;color:#a3a9ad;font-weight:400;letter-spacing:-0.45px;left:986.75px;width:600px;text-align:right;">18:50:00</div>
<div class="r" style="left:1367px;top:247.48px;width:1px;height:12.639999999999999px;background:#8d4a37;"></div>
<div class="t" style="top:249.85px;font-size:10.2px;color:#eef0f1;font-weight:400;letter-spacing:-0.45px;left:850.75px;width:600px;text-align:right;"><b style="color:#eef0f1">0.02</b><span style="color:#4c5760">000000</span></div>
<div class="t" style="top:249.85px;font-size:10.2px;color:#f46b3f;font-weight:400;letter-spacing:-0.45px;left:919.00px;width:600px;text-align:right;"><span style="color:#b8583b">2279.</span><b style="color:#f46b3f">00</b><svg style="position:static;vertical-align:-1px;margin-left:2px" width="7" height="8" viewBox="0 0 7 8"><path d="M1,1.5 L6,6.5 M6,2.5 L6,6.5 L2,6.5" fill="none" stroke="#f46b3f" stroke-width="1.1"/></svg></div>
<div class="t" style="top:249.85px;font-size:10.2px;color:#a3a9ad;font-weight:400;letter-spacing:-0.45px;left:986.75px;width:600px;text-align:right;">18:50:00</div>
<div class="r" style="left:1367px;top:260.02px;width:1px;height:12.639999999999999px;background:#4d9a3d;"></div>
<div class="t" style="top:262.39px;font-size:10.2px;color:#eef0f1;font-weight:400;letter-spacing:-0.45px;left:850.75px;width:600px;text-align:right;"><b style="color:#eef0f1">0.20619654</b><span style="color:#4c5760"></span></div>
<div class="t" style="top:262.39px;font-size:10.2px;color:#8cf36a;font-weight:400;letter-spacing:-0.45px;left:919.00px;width:600px;text-align:right;"><span style="color:#5caa49">2279.</span><b style="color:#8cf36a">22</b><svg style="position:static;vertical-align:-1px;margin-left:2px" width="7" height="8" viewBox="0 0 7 8"><path d="M1,6.5 L6,1.5 M2,1.5 L6,1.5 L6,5.5" fill="none" stroke="#8cf36a" stroke-width="1.1"/></svg></div>
<div class="t" style="top:262.39px;font-size:10.2px;color:#a3a9ad;font-weight:400;letter-spacing:-0.45px;left:986.75px;width:600px;text-align:right;">18:49:57</div>
<div class="r" style="left:1367px;top:272.56px;width:2px;height:12.639999999999999px;background:#62d44b;"></div>
<div class="t" style="top:274.93px;font-size:10.2px;color:#eef0f1;font-weight:400;letter-spacing:-0.45px;left:850.75px;width:600px;text-align:right;"><b style="color:#eef0f1">1.584</b><span style="color:#4c5760">00000</span></div>
<div class="t" style="top:274.93px;font-size:10.2px;color:#8cf36a;font-weight:400;letter-spacing:-0.45px;left:919.00px;width:600px;text-align:right;"><span style="color:#5caa49">2279.</span><b style="color:#8cf36a">21</b><svg style="position:static;vertical-align:-1px;margin-left:2px" width="7" height="8" viewBox="0 0 7 8"><path d="M1,6.5 L6,1.5 M2,1.5 L6,1.5 L6,5.5" fill="none" stroke="#8cf36a" stroke-width="1.1"/></svg></div>
<div class="t" style="top:274.93px;font-size:10.2px;color:#a3a9ad;font-weight:400;letter-spacing:-0.45px;left:986.75px;width:600px;text-align:right;">18:49:57</div>
<div class="r" style="left:1367px;top:285.1px;width:1px;height:12.639999999999999px;background:#4d9a3d;"></div>
<div class="t" style="top:287.47px;font-size:10.2px;color:#eef0f1;font-weight:400;letter-spacing:-0.45px;left:850.75px;width:600px;text-align:right;"><b style="color:#eef0f1">0.6743</b><span style="color:#4c5760">0000</span></div>
<div class="t" style="top:287.47px;font-size:10.2px;color:#8cf36a;font-weight:400;letter-spacing:-0.45px;left:919.00px;width:600px;text-align:right;"><span style="color:#5caa49">2279.</span><b style="color:#8cf36a">21</b><svg style="position:static;vertical-align:-1px;margin-left:2px" width="7" height="8" viewBox="0 0 7 8"><path d="M1,6.5 L6,1.5 M2,1.5 L6,1.5 L6,5.5" fill="none" stroke="#8cf36a" stroke-width="1.1"/></svg></div>
<div class="t" style="top:287.47px;font-size:10.2px;color:#a3a9ad;font-weight:400;letter-spacing:-0.45px;left:986.75px;width:600px;text-align:right;">18:49:57</div>
<div class="r" style="left:1367px;top:297.64px;width:1px;height:12.639999999999999px;background:#4d9a3d;"></div>
<div class="t" style="top:300.01px;font-size:10.2px;color:#eef0f1;font-weight:400;letter-spacing:-0.45px;left:850.75px;width:600px;text-align:right;"><b style="color:#eef0f1">0.01</b><span style="color:#4c5760">000000</span></div>
<div class="t" style="top:300.01px;font-size:10.2px;color:#8cf36a;font-weight:400;letter-spacing:-0.45px;left:919.00px;width:600px;text-align:right;"><span style="color:#5caa49">2279.</span><b style="color:#8cf36a">33</b><svg style="position:static;vertical-align:-1px;margin-left:2px" width="7" height="8" viewBox="0 0 7 8"><path d="M1,6.5 L6,1.5 M2,1.5 L6,1.5 L6,5.5" fill="none" stroke="#8cf36a" stroke-width="1.1"/></svg></div>
<div class="t" style="top:300.01px;font-size:10.2px;color:#a3a9ad;font-weight:400;letter-spacing:-0.45px;left:986.75px;width:600px;text-align:right;">18:49:55</div>
<div class="r" style="left:1367px;top:310.18px;width:1px;height:12.639999999999999px;background:#8d4a37;"></div>
<div class="t" style="top:312.55px;font-size:10.2px;color:#eef0f1;font-weight:400;letter-spacing:-0.45px;left:850.75px;width:600px;text-align:right;"><b style="color:#eef0f1">0.16129</b><span style="color:#4c5760">000</span></div>
<div class="t" style="top:312.55px;font-size:10.2px;color:#f46b3f;font-weight:400;letter-spacing:-0.45px;left:919.00px;width:600px;text-align:right;"><span style="color:#b8583b">2278.</span><b style="color:#f46b3f">00</b><svg style="position:static;vertical-align:-1px;margin-left:2px" width="7" height="8" viewBox="0 0 7 8"><path d="M1,1.5 L6,6.5 M6,2.5 L6,6.5 L2,6.5" fill="none" stroke="#f46b3f" stroke-width="1.1"/></svg></div>
<div class="t" style="top:312.55px;font-size:10.2px;color:#a3a9ad;font-weight:400;letter-spacing:-0.45px;left:986.75px;width:600px;text-align:right;">18:49:50</div>
<div class="r" style="left:1367px;top:322.72px;width:1px;height:12.639999999999999px;background:#8d4a37;"></div>
<div class="t" style="top:325.09px;font-size:10.2px;color:#eef0f1;font-weight:400;letter-spacing:-0.45px;left:850.75px;width:600px;text-align:right;"><b style="color:#eef0f1">0.09471</b><span style="color:#4c5760">000</span></div>
<div class="t" style="top:325.09px;font-size:10.2px;color:#f46b3f;font-weight:400;letter-spacing:-0.45px;left:919.00px;width:600px;text-align:right;"><span style="color:#b8583b">2278.</span><b style="color:#f46b3f">00</b><svg style="position:static;vertical-align:-1px;margin-left:2px" width="7" height="8" viewBox="0 0 7 8"><path d="M1,1.5 L6,6.5 M6,2.5 L6,6.5 L2,6.5" fill="none" stroke="#f46b3f" stroke-width="1.1"/></svg></div>
<div class="t" style="top:325.09px;font-size:10.2px;color:#a3a9ad;font-weight:400;letter-spacing:-0.45px;left:986.75px;width:600px;text-align:right;">18:49:50</div>
<div class="r" style="left:1367px;top:335.26px;width:1px;height:12.639999999999999px;background:#8d4a37;"></div>
<div class="t" style="top:337.63px;font-size:10.2px;color:#eef0f1;font-weight:400;letter-spacing:-0.45px;left:850.75px;width:600px;text-align:right;"><b style="color:#eef0f1">0.02</b><span style="color:#4c5760">000000</span></div>
<div class="t" style="top:337.63px;font-size:10.2px;color:#f46b3f;font-weight:400;letter-spacing:-0.45px;left:919.00px;width:600px;text-align:right;"><span style="color:#b8583b">2278.</span><b style="color:#f46b3f">01</b><svg style="position:static;vertical-align:-1px;margin-left:2px" width="7" height="8" viewBox="0 0 7 8"><path d="M1,1.5 L6,6.5 M6,2.5 L6,6.5 L2,6.5" fill="none" stroke="#f46b3f" stroke-width="1.1"/></svg></div>
<div class="t" style="top:337.63px;font-size:10.2px;color:#a3a9ad;font-weight:400;letter-spacing:-0.45px;left:986.75px;width:600px;text-align:right;">18:49:50</div>
<div class="r" style="left:1367px;top:347.8px;width:1px;height:12.639999999999999px;background:#8d4a37;"></div>
<div class="t" style="top:350.17px;font-size:10.2px;color:#eef0f1;font-weight:400;letter-spacing:-0.45px;left:850.75px;width:600px;text-align:right;"><b style="color:#eef0f1">0.40529</b><span style="color:#4c5760">000</span></div>
<div class="t" style="top:350.17px;font-size:10.2px;color:#f46b3f;font-weight:400;letter-spacing:-0.45px;left:919.00px;width:600px;text-align:right;"><span style="color:#b8583b">2278.</span><b style="color:#f46b3f">00</b><svg style="position:static;vertical-align:-1px;margin-left:2px" width="7" height="8" viewBox="0 0 7 8"><path d="M1,1.5 L6,6.5 M6,2.5 L6,6.5 L2,6.5" fill="none" stroke="#f46b3f" stroke-width="1.1"/></svg></div>
<div class="t" style="top:350.17px;font-size:10.2px;color:#a3a9ad;font-weight:400;letter-spacing:-0.45px;left:986.75px;width:600px;text-align:right;">18:49:48</div>
<div class="r" style="left:1367px;top:360.34px;width:1px;height:12.639999999999999px;background:#8d4a37;"></div>
<div class="t" style="top:362.71px;font-size:10.2px;color:#eef0f1;font-weight:400;letter-spacing:-0.45px;left:850.75px;width:600px;text-align:right;"><b style="color:#eef0f1">0.2</b><span style="color:#4c5760">0000000</span></div>
<div class="t" style="top:362.71px;font-size:10.2px;color:#f46b3f;font-weight:400;letter-spacing:-0.45px;left:919.00px;width:600px;text-align:right;"><span style="color:#b8583b">2278.</span><b style="color:#f46b3f">01</b><svg style="position:static;vertical-align:-1px;margin-left:2px" width="7" height="8" viewBox="0 0 7 8"><path d="M1,1.5 L6,6.5 M6,2.5 L6,6.5 L2,6.5" fill="none" stroke="#f46b3f" stroke-width="1.1"/></svg></div>
<div class="t" style="top:362.71px;font-size:10.2px;color:#a3a9ad;font-weight:400;letter-spacing:-0.45px;left:986.75px;width:600px;text-align:right;">18:49:48</div>
<div class="r" style="left:1367px;top:372.88px;width:1px;height:12.639999999999999px;background:#8d4a37;"></div>
<div class="t" style="top:375.25px;font-size:10.2px;color:#eef0f1;font-weight:400;letter-spacing:-0.45px;left:850.75px;width:600px;text-align:right;"><b style="color:#eef0f1">0.2</b><span style="color:#4c5760">0000000</span></div>
<div class="t" style="top:375.25px;font-size:10.2px;color:#f46b3f;font-weight:400;letter-spacing:-0.45px;left:919.00px;width:600px;text-align:right;"><span style="color:#b8583b">2278.</span><b style="color:#f46b3f">01</b><svg style="position:static;vertical-align:-1px;margin-left:2px" width="7" height="8" viewBox="0 0 7 8"><path d="M1,1.5 L6,6.5 M6,2.5 L6,6.5 L2,6.5" fill="none" stroke="#f46b3f" stroke-width="1.1"/></svg></div>
<div class="t" style="top:375.25px;font-size:10.2px;color:#a3a9ad;font-weight:400;letter-spacing:-0.45px;left:986.75px;width:600px;text-align:right;">18:49:48</div>
<div class="r" style="left:1367px;top:385.42px;width:1px;height:12.639999999999999px;background:#8d4a37;"></div>
<div class="t" style="top:387.79px;font-size:10.2px;color:#eef0f1;font-weight:400;letter-spacing:-0.45px;left:850.75px;width:600px;text-align:right;"><b style="color:#eef0f1">0.89422</b><span style="color:#4c5760">000</span></div>
<div class="t" style="top:387.79px;font-size:10.2px;color:#f46b3f;font-weight:400;letter-spacing:-0.45px;left:919.00px;width:600px;text-align:right;"><span style="color:#b8583b">2278.</span><b style="color:#f46b3f">20</b><svg style="position:static;vertical-align:-1px;margin-left:2px" width="7" height="8" viewBox="0 0 7 8"><path d="M1,1.5 L6,6.5 M6,2.5 L6,6.5 L2,6.5" fill="none" stroke="#f46b3f" stroke-width="1.1"/></svg></div>
<div class="t" style="top:387.79px;font-size:10.2px;color:#a3a9ad;font-weight:400;letter-spacing:-0.45px;left:986.75px;width:600px;text-align:right;">18:49:48</div>
<div class="r" style="left:1367px;top:397.96px;width:1px;height:12.639999999999999px;background:#8d4a37;"></div>
<div class="t" style="top:400.33px;font-size:10.2px;color:#eef0f1;font-weight:400;letter-spacing:-0.45px;left:850.75px;width:600px;text-align:right;"><b style="color:#eef0f1">0.31</b><span style="color:#4c5760">000000</span></div>
<div class="t" style="top:400.33px;font-size:10.2px;color:#f46b3f;font-weight:400;letter-spacing:-0.45px;left:919.00px;width:600px;text-align:right;"><span style="color:#b8583b">2278.</span><b style="color:#f46b3f">21</b><svg style="position:static;vertical-align:-1px;margin-left:2px" width="7" height="8" viewBox="0 0 7 8"><path d="M1,1.5 L6,6.5 M6,2.5 L6,6.5 L2,6.5" fill="none" stroke="#f46b3f" stroke-width="1.1"/></svg></div>
<div class="t" style="top:400.33px;font-size:10.2px;color:#a3a9ad;font-weight:400;letter-spacing:-0.45px;left:986.75px;width:600px;text-align:right;">18:49:48</div>
<div class="r" style="left:1367px;top:410.5px;width:1px;height:12.639999999999999px;background:#8d4a37;"></div>
<div class="t" style="top:412.87px;font-size:10.2px;color:#eef0f1;font-weight:400;letter-spacing:-0.45px;left:850.75px;width:600px;text-align:right;"><b style="color:#eef0f1">0.1</b><span style="color:#4c5760">0000000</span></div>
<div class="t" style="top:412.87px;font-size:10.2px;color:#f46b3f;font-weight:400;letter-spacing:-0.45px;left:919.00px;width:600px;text-align:right;"><span style="color:#b8583b">2278.</span><b style="color:#f46b3f">22</b><svg style="position:static;vertical-align:-1px;margin-left:2px" width="7" height="8" viewBox="0 0 7 8"><path d="M1,1.5 L6,6.5 M6,2.5 L6,6.5 L2,6.5" fill="none" stroke="#f46b3f" stroke-width="1.1"/></svg></div>
<div class="t" style="top:412.87px;font-size:10.2px;color:#a3a9ad;font-weight:400;letter-spacing:-0.45px;left:986.75px;width:600px;text-align:right;">18:49:48</div>
<div class="r" style="left:1367px;top:423.04px;width:1px;height:12.639999999999999px;background:#8d4a37;"></div>
<div class="t" style="top:425.41px;font-size:10.2px;color:#eef0f1;font-weight:400;letter-spacing:-0.45px;left:850.75px;width:600px;text-align:right;"><b style="color:#eef0f1">0.09049</b><span style="color:#4c5760">000</span></div>
<div class="t" style="top:425.41px;font-size:10.2px;color:#f46b3f;font-weight:400;letter-spacing:-0.45px;left:919.00px;width:600px;text-align:right;"><span style="color:#b8583b">2278.</span><b style="color:#f46b3f">30</b><svg style="position:static;vertical-align:-1px;margin-left:2px" width="7" height="8" viewBox="0 0 7 8"><path d="M1,1.5 L6,6.5 M6,2.5 L6,6.5 L2,6.5" fill="none" stroke="#f46b3f" stroke-width="1.1"/></svg></div>
<div class="t" style="top:425.41px;font-size:10.2px;color:#a3a9ad;font-weight:400;letter-spacing:-0.45px;left:986.75px;width:600px;text-align:right;">18:49:48</div>
<div class="r" style="left:1367px;top:435.58px;width:1px;height:12.639999999999999px;background:#4d9a3d;"></div>
<div class="t" style="top:437.95px;font-size:10.2px;color:#eef0f1;font-weight:400;letter-spacing:-0.45px;left:850.75px;width:600px;text-align:right;"><b style="color:#eef0f1">0.06</b><span style="color:#4c5760">000000</span></div>
<div class="t" style="top:437.95px;font-size:10.2px;color:#8cf36a;font-weight:400;letter-spacing:-0.45px;left:919.00px;width:600px;text-align:right;"><span style="color:#5caa49">2279.</span><b style="color:#8cf36a">93</b><svg style="position:static;vertical-align:-1px;margin-left:2px" width="7" height="8" viewBox="0 0 7 8"><path d="M1,6.5 L6,1.5 M2,1.5 L6,1.5 L6,5.5" fill="none" stroke="#8cf36a" stroke-width="1.1"/></svg></div>
<div class="t" style="top:437.95px;font-size:10.2px;color:#a3a9ad;font-weight:400;letter-spacing:-0.45px;left:986.75px;width:600px;text-align:right;">18:49:47</div>
<div class="r" style="left:1367px;top:448.12px;width:1px;height:12.639999999999999px;background:#4d9a3d;"></div>
<div class="t" style="top:450.49px;font-size:10.2px;color:#eef0f1;font-weight:400;letter-spacing:-0.45px;left:850.75px;width:600px;text-align:right;"><b style="color:#eef0f1">0.86190843</b><span style="color:#4c5760"></span></div>
<div class="t" style="top:450.49px;font-size:10.2px;color:#8cf36a;font-weight:400;letter-spacing:-0.45px;left:919.00px;width:600px;text-align:right;"><span style="color:#5caa49">2280.</span><b style="color:#8cf36a">00</b><svg style="position:static;vertical-align:-1px;margin-left:2px" width="7" height="8" viewBox="0 0 7 8"><path d="M1,6.5 L6,1.5 M2,1.5 L6,1.5 L6,5.5" fill="none" stroke="#8cf36a" stroke-width="1.1"/></svg></div>
<div class="t" style="top:450.49px;font-size:10.2px;color:#a3a9ad;font-weight:400;letter-spacing:-0.45px;left:986.75px;width:600px;text-align:right;">18:49:41</div>
<div class="r" style="left:1367px;top:460.66px;width:1px;height:12.639999999999999px;background:#4d9a3d;"></div>
<div class="t" style="top:463.03px;font-size:10.2px;color:#eef0f1;font-weight:400;letter-spacing:-0.45px;left:850.75px;width:600px;text-align:right;"><b style="color:#eef0f1">0.19004136</b><span style="color:#4c5760"></span></div>
<div class="t" style="top:463.03px;font-size:10.2px;color:#8cf36a;font-weight:400;letter-spacing:-0.45px;left:919.00px;width:600px;text-align:right;"><span style="color:#5caa49">2280.</span><b style="color:#8cf36a">00</b><svg style="position:static;vertical-align:-1px;margin-left:2px" width="7" height="8" viewBox="0 0 7 8"><path d="M1,6.5 L6,1.5 M2,1.5 L6,1.5 L6,5.5" fill="none" stroke="#8cf36a" stroke-width="1.1"/></svg></div>
<div class="t" style="top:463.03px;font-size:10.2px;color:#a3a9ad;font-weight:400;letter-spacing:-0.45px;left:986.75px;width:600px;text-align:right;">18:49:40</div>
<div class="r" style="left:1367px;top:473.2px;width:1px;height:12.639999999999999px;background:#4d9a3d;"></div>
<div class="t" style="top:475.57px;font-size:10.2px;color:#eef0f1;font-weight:400;letter-spacing:-0.45px;left:850.75px;width:600px;text-align:right;"><b style="color:#eef0f1">0.7821</b><span style="color:#4c5760">0000</span></div>
<div class="t" style="top:475.57px;font-size:10.2px;color:#8cf36a;font-weight:400;letter-spacing:-0.45px;left:919.00px;width:600px;text-align:right;"><span style="color:#5caa49">2279.</span><b style="color:#8cf36a">97</b><svg style="position:static;vertical-align:-1px;margin-left:2px" width="7" height="8" viewBox="0 0 7 8"><path d="M1,6.5 L6,1.5 M2,1.5 L6,1.5 L6,5.5" fill="none" stroke="#8cf36a" stroke-width="1.1"/></svg></div>
<div class="t" style="top:475.57px;font-size:10.2px;color:#a3a9ad;font-weight:400;letter-spacing:-0.45px;left:986.75px;width:600px;text-align:right;">18:49:40</div>
<div class="r" style="left:1367px;top:485.74px;width:1px;height:12.639999999999999px;background:#4d9a3d;"></div>
<div class="t" style="top:488.11px;font-size:10.2px;color:#eef0f1;font-weight:400;letter-spacing:-0.45px;left:850.75px;width:600px;text-align:right;"><b style="color:#eef0f1">0.03064</b><span style="color:#4c5760">000</span></div>
<div class="t" style="top:488.11px;font-size:10.2px;color:#8cf36a;font-weight:400;letter-spacing:-0.45px;left:919.00px;width:600px;text-align:right;"><span style="color:#5caa49">2279.</span><b style="color:#8cf36a">89</b><svg style="position:static;vertical-align:-1px;margin-left:2px" width="7" height="8" viewBox="0 0 7 8"><path d="M1,6.5 L6,1.5 M2,1.5 L6,1.5 L6,5.5" fill="none" stroke="#8cf36a" stroke-width="1.1"/></svg></div>
<div class="t" style="top:488.11px;font-size:10.2px;color:#a3a9ad;font-weight:400;letter-spacing:-0.45px;left:986.75px;width:600px;text-align:right;">18:49:38</div>
<div class="r" style="left:1367px;top:498.28px;width:1px;height:12.639999999999999px;background:#8d4a37;"></div>
<div class="t" style="top:500.65px;font-size:10.2px;color:#eef0f1;font-weight:400;letter-spacing:-0.45px;left:850.75px;width:600px;text-align:right;"><b style="color:#eef0f1">0.0357</b><span style="color:#4c5760">0000</span></div>
<div class="t" style="top:500.65px;font-size:10.2px;color:#f46b3f;font-weight:400;letter-spacing:-0.45px;left:919.00px;width:600px;text-align:right;"><span style="color:#b8583b">2278.</span><b style="color:#f46b3f">26</b><svg style="position:static;vertical-align:-1px;margin-left:2px" width="7" height="8" viewBox="0 0 7 8"><path d="M1,1.5 L6,6.5 M6,2.5 L6,6.5 L2,6.5" fill="none" stroke="#f46b3f" stroke-width="1.1"/></svg></div>
<div class="t" style="top:500.65px;font-size:10.2px;color:#a3a9ad;font-weight:400;letter-spacing:-0.45px;left:986.75px;width:600px;text-align:right;">18:49:38</div>
<div class="r" style="left:1367px;top:510.82px;width:1px;height:12.639999999999999px;background:#8d4a37;"></div>
<div class="t" style="top:513.19px;font-size:10.2px;color:#eef0f1;font-weight:400;letter-spacing:-0.45px;left:850.75px;width:600px;text-align:right;"><b style="color:#eef0f1">0.01</b><span style="color:#4c5760">000000</span></div>
<div class="t" style="top:513.19px;font-size:10.2px;color:#f46b3f;font-weight:400;letter-spacing:-0.45px;left:919.00px;width:600px;text-align:right;"><span style="color:#b8583b">2278.</span><b style="color:#f46b3f">28</b><svg style="position:static;vertical-align:-1px;margin-left:2px" width="7" height="8" viewBox="0 0 7 8"><path d="M1,1.5 L6,6.5 M6,2.5 L6,6.5 L2,6.5" fill="none" stroke="#f46b3f" stroke-width="1.1"/></svg></div>
<div class="t" style="top:513.19px;font-size:10.2px;color:#a3a9ad;font-weight:400;letter-spacing:-0.45px;left:986.75px;width:600px;text-align:right;">18:49:38</div>
<div class="r" style="left:1367px;top:523.36px;width:1px;height:12.639999999999999px;background:#8d4a37;"></div>
<div class="t" style="top:525.73px;font-size:10.2px;color:#eef0f1;font-weight:400;letter-spacing:-0.45px;left:850.75px;width:600px;text-align:right;"><b style="color:#eef0f1">0.32192303</b><span style="color:#4c5760"></span></div>
<div class="t" style="top:525.73px;font-size:10.2px;color:#f46b3f;font-weight:400;letter-spacing:-0.45px;left:919.00px;width:600px;text-align:right;"><span style="color:#b8583b">2278.</span><b style="color:#f46b3f">26</b><svg style="position:static;vertical-align:-1px;margin-left:2px" width="7" height="8" viewBox="0 0 7 8"><path d="M1,1.5 L6,6.5 M6,2.5 L6,6.5 L2,6.5" fill="none" stroke="#f46b3f" stroke-width="1.1"/></svg></div>
<div class="t" style="top:525.73px;font-size:10.2px;color:#a3a9ad;font-weight:400;letter-spacing:-0.45px;left:986.75px;width:600px;text-align:right;">18:49:38</div>
<div class="r" style="left:1367px;top:535.9px;width:1px;height:12.639999999999999px;background:#4d9a3d;"></div>
<div class="t" style="top:538.27px;font-size:10.2px;color:#eef0f1;font-weight:400;letter-spacing:-0.45px;left:850.75px;width:600px;text-align:right;"><b style="color:#eef0f1">0.25001692</b><span style="color:#4c5760"></span></div>
<div class="t" style="top:538.27px;font-size:10.2px;color:#8cf36a;font-weight:400;letter-spacing:-0.45px;left:919.00px;width:600px;text-align:right;"><span style="color:#5caa49">2278.</span><b style="color:#8cf36a">23</b><svg style="position:static;vertical-align:-1px;margin-left:2px" width="7" height="8" viewBox="0 0 7 8"><path d="M1,6.5 L6,1.5 M2,1.5 L6,1.5 L6,5.5" fill="none" stroke="#8cf36a" stroke-width="1.1"/></svg></div>
<div class="t" style="top:538.27px;font-size:10.2px;color:#a3a9ad;font-weight:400;letter-spacing:-0.45px;left:986.75px;width:600px;text-align:right;">18:49:36</div>
<div class="r" style="left:1367px;top:548.44px;width:1px;height:12.639999999999999px;background:#4d9a3d;"></div>
<div class="t" style="top:550.81px;font-size:10.2px;color:#eef0f1;font-weight:400;letter-spacing:-0.45px;left:850.75px;width:600px;text-align:right;"><b style="color:#eef0f1">1.1143</b><span style="color:#4c5760">0000</span></div>
<div class="t" style="top:550.81px;font-size:10.2px;color:#8cf36a;font-weight:400;letter-spacing:-0.45px;left:919.00px;width:600px;text-align:right;"><span style="color:#5caa49">2278.</span><b style="color:#8cf36a">23</b><svg style="position:static;vertical-align:-1px;margin-left:2px" width="7" height="8" viewBox="0 0 7 8"><path d="M1,6.5 L6,1.5 M2,1.5 L6,1.5 L6,5.5" fill="none" stroke="#8cf36a" stroke-width="1.1"/></svg></div>
<div class="t" style="top:550.81px;font-size:10.2px;color:#a3a9ad;font-weight:400;letter-spacing:-0.45px;left:986.75px;width:600px;text-align:right;">18:49:36</div>
<div class="r" style="left:1367px;top:560.98px;width:1px;height:12.639999999999999px;background:#4d9a3d;"></div>
<div class="t" style="top:563.35px;font-size:10.2px;color:#eef0f1;font-weight:400;letter-spacing:-0.45px;left:850.75px;width:600px;text-align:right;"><b style="color:#eef0f1">0.17091308</b><span style="color:#4c5760"></span></div>
<div class="t" style="top:563.35px;font-size:10.2px;color:#8cf36a;font-weight:400;letter-spacing:-0.45px;left:919.00px;width:600px;text-align:right;"><span style="color:#5caa49">2278.</span><b style="color:#8cf36a">23</b><svg style="position:static;vertical-align:-1px;margin-left:2px" width="7" height="8" viewBox="0 0 7 8"><path d="M1,6.5 L6,1.5 M2,1.5 L6,1.5 L6,5.5" fill="none" stroke="#8cf36a" stroke-width="1.1"/></svg></div>
<div class="t" style="top:563.35px;font-size:10.2px;color:#a3a9ad;font-weight:400;letter-spacing:-0.45px;left:986.75px;width:600px;text-align:right;">18:49:35</div>
<div class="r" style="left:1367px;top:573.52px;width:1px;height:12.639999999999999px;background:#4d9a3d;"></div>
<div class="t" style="top:575.89px;font-size:10.2px;color:#eef0f1;font-weight:400;letter-spacing:-0.45px;left:850.75px;width:600px;text-align:right;"><b style="color:#eef0f1">0.2</b><span style="color:#4c5760">0000000</span></div>
<div class="t" style="top:575.89px;font-size:10.2px;color:#8cf36a;font-weight:400;letter-spacing:-0.45px;left:919.00px;width:600px;text-align:right;"><span style="color:#5caa49">2279.</span><b style="color:#8cf36a">50</b><svg style="position:static;vertical-align:-1px;margin-left:2px" width="7" height="8" viewBox="0 0 7 8"><path d="M1,6.5 L6,1.5 M2,1.5 L6,1.5 L6,5.5" fill="none" stroke="#8cf36a" stroke-width="1.1"/></svg></div>
<div class="t" style="top:575.89px;font-size:10.2px;color:#a3a9ad;font-weight:400;letter-spacing:-0.45px;left:986.75px;width:600px;text-align:right;">18:49:27</div>
<div class="r" style="left:1367px;top:586.06px;width:1px;height:12.639999999999999px;background:#4d9a3d;"></div>
<div class="t" style="top:588.43px;font-size:10.2px;color:#eef0f1;font-weight:400;letter-spacing:-0.45px;left:850.75px;width:600px;text-align:right;"><b style="color:#eef0f1">0.2</b><span style="color:#4c5760">0000000</span></div>
<div class="t" style="top:588.43px;font-size:10.2px;color:#8cf36a;font-weight:400;letter-spacing:-0.45px;left:919.00px;width:600px;text-align:right;"><span style="color:#5caa49">2279.</span><b style="color:#8cf36a">50</b><svg style="position:static;vertical-align:-1px;margin-left:2px" width="7" height="8" viewBox="0 0 7 8"><path d="M1,6.5 L6,1.5 M2,1.5 L6,1.5 L6,5.5" fill="none" stroke="#8cf36a" stroke-width="1.1"/></svg></div>
<div class="t" style="top:588.43px;font-size:10.2px;color:#a3a9ad;font-weight:400;letter-spacing:-0.45px;left:986.75px;width:600px;text-align:right;">18:49:27</div>
<div class="r" style="left:1367px;top:598.6px;width:1px;height:12.639999999999999px;background:#4d9a3d;"></div>
<div class="t" style="top:600.97px;font-size:10.2px;color:#eef0f1;font-weight:400;letter-spacing:-0.45px;left:850.75px;width:600px;text-align:right;"><b style="color:#eef0f1">0.01</b><span style="color:#4c5760">000000</span></div>
<div class="t" style="top:600.97px;font-size:10.2px;color:#8cf36a;font-weight:400;letter-spacing:-0.45px;left:919.00px;width:600px;text-align:right;"><span style="color:#5caa49">2278.</span><b style="color:#8cf36a">71</b><svg style="position:static;vertical-align:-1px;margin-left:2px" width="7" height="8" viewBox="0 0 7 8"><path d="M1,6.5 L6,1.5 M2,1.5 L6,1.5 L6,5.5" fill="none" stroke="#8cf36a" stroke-width="1.1"/></svg></div>
<div class="t" style="top:600.97px;font-size:10.2px;color:#a3a9ad;font-weight:400;letter-spacing:-0.45px;left:986.75px;width:600px;text-align:right;">18:49:27</div>
<div class="r" style="left:1367px;top:611.14px;width:1px;height:12.639999999999999px;background:#4d9a3d;"></div>
<div class="t" style="top:613.51px;font-size:10.2px;color:#eef0f1;font-weight:400;letter-spacing:-0.45px;left:850.75px;width:600px;text-align:right;"><b style="color:#eef0f1">1.42154495</b><span style="color:#4c5760"></span></div>
<div class="t" style="top:613.51px;font-size:10.2px;color:#8cf36a;font-weight:400;letter-spacing:-0.45px;left:919.00px;width:600px;text-align:right;"><span style="color:#5caa49">2278.</span><b style="color:#8cf36a">33</b><svg style="position:static;vertical-align:-1px;margin-left:2px" width="7" height="8" viewBox="0 0 7 8"><path d="M1,6.5 L6,1.5 M2,1.5 L6,1.5 L6,5.5" fill="none" stroke="#8cf36a" stroke-width="1.1"/></svg></div>
<div class="t" style="top:613.51px;font-size:10.2px;color:#a3a9ad;font-weight:400;letter-spacing:-0.45px;left:986.75px;width:600px;text-align:right;">18:49:27</div>
<div class="r" style="left:1367px;top:623.68px;width:1px;height:12.639999999999999px;background:#4d9a3d;"></div>
<div class="t" style="top:626.05px;font-size:10.2px;color:#eef0f1;font-weight:400;letter-spacing:-0.45px;left:850.75px;width:600px;text-align:right;"><b style="color:#eef0f1">0.21891171</b><span style="color:#4c5760"></span></div>
<div class="t" style="top:626.05px;font-size:10.2px;color:#8cf36a;font-weight:400;letter-spacing:-0.45px;left:919.00px;width:600px;text-align:right;"><span style="color:#5caa49">2278.</span><b style="color:#8cf36a">33</b><svg style="position:static;vertical-align:-1px;margin-left:2px" width="7" height="8" viewBox="0 0 7 8"><path d="M1,6.5 L6,1.5 M2,1.5 L6,1.5 L6,5.5" fill="none" stroke="#8cf36a" stroke-width="1.1"/></svg></div>
<div class="t" style="top:626.05px;font-size:10.2px;color:#a3a9ad;font-weight:400;letter-spacing:-0.45px;left:986.75px;width:600px;text-align:right;">18:49:26</div>
<div class="r" style="left:1367px;top:636.22px;width:1px;height:12.639999999999999px;background:#4d9a3d;"></div>
<div class="t" style="top:638.59px;font-size:10.2px;color:#eef0f1;font-weight:400;letter-spacing:-0.45px;left:850.75px;width:600px;text-align:right;"><b style="color:#eef0f1">0.48643036</b><span style="color:#4c5760"></span></div>
<div class="t" style="top:638.59px;font-size:10.2px;color:#8cf36a;font-weight:400;letter-spacing:-0.45px;left:919.00px;width:600px;text-align:right;"><span style="color:#5caa49">2278.</span><b style="color:#8cf36a">29</b><svg style="position:static;vertical-align:-1px;margin-left:2px" width="7" height="8" viewBox="0 0 7 8"><path d="M1,6.5 L6,1.5 M2,1.5 L6,1.5 L6,5.5" fill="none" stroke="#8cf36a" stroke-width="1.1"/></svg></div>
<div class="t" style="top:638.59px;font-size:10.2px;color:#a3a9ad;font-weight:400;letter-spacing:-0.45px;left:986.75px;width:600px;text-align:right;">18:49:22</div>
<div class="r" style="left:1367px;top:648.76px;width:1px;height:12.639999999999999px;background:#4d9a3d;"></div>
<div class="t" style="top:651.13px;font-size:10.2px;color:#eef0f1;font-weight:400;letter-spacing:-0.45px;left:850.75px;width:600px;text-align:right;"><b style="color:#eef0f1">0.01</b><span style="color:#4c5760">000000</span></div>
<div class="t" style="top:651.13px;font-size:10.2px;color:#8cf36a;font-weight:400;letter-spacing:-0.45px;left:919.00px;width:600px;text-align:right;"><span style="color:#5caa49">2278.</span><b style="color:#8cf36a">29</b><svg style="position:static;vertical-align:-1px;margin-left:2px" width="7" height="8" viewBox="0 0 7 8"><path d="M1,6.5 L6,1.5 M2,1.5 L6,1.5 L6,5.5" fill="none" stroke="#8cf36a" stroke-width="1.1"/></svg></div>
<div class="t" style="top:651.13px;font-size:10.2px;color:#a3a9ad;font-weight:400;letter-spacing:-0.45px;left:986.75px;width:600px;text-align:right;">18:49:22</div>
<div class="r" style="left:1367px;top:661.3px;width:1px;height:12.639999999999999px;background:#4d9a3d;"></div>
<div class="t" style="top:663.67px;font-size:10.2px;color:#eef0f1;font-weight:400;letter-spacing:-0.45px;left:850.75px;width:600px;text-align:right;"><b style="color:#eef0f1">0.08755776</b><span style="color:#4c5760"></span></div>
<div class="t" style="top:663.67px;font-size:10.2px;color:#8cf36a;font-weight:400;letter-spacing:-0.45px;left:919.00px;width:600px;text-align:right;"><span style="color:#5caa49">2278.</span><b style="color:#8cf36a">51</b><svg style="position:static;vertical-align:-1px;margin-left:2px" width="7" height="8" viewBox="0 0 7 8"><path d="M1,6.5 L6,1.5 M2,1.5 L6,1.5 L6,5.5" fill="none" stroke="#8cf36a" stroke-width="1.1"/></svg></div>
<div class="t" style="top:663.67px;font-size:10.2px;color:#a3a9ad;font-weight:400;letter-spacing:-0.45px;left:986.75px;width:600px;text-align:right;">18:49:17</div>
<div class="r" style="left:1367px;top:673.84px;width:1px;height:12.639999999999999px;background:#4d9a3d;"></div>
<div class="t" style="top:676.21px;font-size:10.2px;color:#eef0f1;font-weight:400;letter-spacing:-0.45px;left:850.75px;width:600px;text-align:right;"><b style="color:#eef0f1">0.19459454</b><span style="color:#4c5760"></span></div>
<div class="t" style="top:676.21px;font-size:10.2px;color:#8cf36a;font-weight:400;letter-spacing:-0.45px;left:919.00px;width:600px;text-align:right;"><span style="color:#5caa49">2278.</span><b style="color:#8cf36a">52</b><svg style="position:static;vertical-align:-1px;margin-left:2px" width="7" height="8" viewBox="0 0 7 8"><path d="M1,6.5 L6,1.5 M2,1.5 L6,1.5 L6,5.5" fill="none" stroke="#8cf36a" stroke-width="1.1"/></svg></div>
<div class="t" style="top:676.21px;font-size:10.2px;color:#a3a9ad;font-weight:400;letter-spacing:-0.45px;left:986.75px;width:600px;text-align:right;">18:49:17</div>
<div class="r" style="left:1367px;top:686.38px;width:1px;height:12.639999999999999px;background:#4d9a3d;"></div>
<div class="t" style="top:688.75px;font-size:10.2px;color:#eef0f1;font-weight:400;letter-spacing:-0.45px;left:850.75px;width:600px;text-align:right;"><b style="color:#eef0f1">0.01</b><span style="color:#4c5760">000000</span></div>
<div class="t" style="top:688.75px;font-size:10.2px;color:#8cf36a;font-weight:400;letter-spacing:-0.45px;left:919.00px;width:600px;text-align:right;"><span style="color:#5caa49">2278.</span><b style="color:#8cf36a">56</b><svg style="position:static;vertical-align:-1px;margin-left:2px" width="7" height="8" viewBox="0 0 7 8"><path d="M1,6.5 L6,1.5 M2,1.5 L6,1.5 L6,5.5" fill="none" stroke="#8cf36a" stroke-width="1.1"/></svg></div>
<div class="t" style="top:688.75px;font-size:10.2px;color:#a3a9ad;font-weight:400;letter-spacing:-0.45px;left:986.75px;width:600px;text-align:right;">18:49:12</div>
<div class="r" style="left:1367px;top:698.92px;width:1px;height:12.639999999999999px;background:#4d9a3d;"></div>
<div class="t" style="top:701.29px;font-size:10.2px;color:#eef0f1;font-weight:400;letter-spacing:-0.45px;left:850.75px;width:600px;text-align:right;"><b style="color:#eef0f1">0.01003</b><span style="color:#4c5760">000</span></div>
<div class="t" style="top:701.29px;font-size:10.2px;color:#8cf36a;font-weight:400;letter-spacing:-0.45px;left:919.00px;width:600px;text-align:right;"><span style="color:#5caa49">2275.</span><b style="color:#8cf36a">91</b><svg style="position:static;vertical-align:-1px;margin-left:2px" width="7" height="8" viewBox="0 0 7 8"><path d="M1,6.5 L6,1.5 M2,1.5 L6,1.5 L6,5.5" fill="none" stroke="#8cf36a" stroke-width="1.1"/></svg></div>
<div class="t" style="top:701.29px;font-size:10.2px;color:#a3a9ad;font-weight:400;letter-spacing:-0.45px;left:986.75px;width:600px;text-align:right;">18:49:10</div>
<div class="r" style="left:1367px;top:711.46px;width:1px;height:12.639999999999999px;background:#4d9a3d;"></div>
<div class="t" style="top:713.83px;font-size:10.2px;color:#eef0f1;font-weight:400;letter-spacing:-0.45px;left:850.75px;width:600px;text-align:right;"><b style="color:#eef0f1">0.2841</b><span style="color:#4c5760">0000</span></div>
<div class="t" style="top:713.83px;font-size:10.2px;color:#8cf36a;font-weight:400;letter-spacing:-0.45px;left:919.00px;width:600px;text-align:right;"><span style="color:#5caa49">2275.</span><b style="color:#8cf36a">91</b><svg style="position:static;vertical-align:-1px;margin-left:2px" width="7" height="8" viewBox="0 0 7 8"><path d="M1,6.5 L6,1.5 M2,1.5 L6,1.5 L6,5.5" fill="none" stroke="#8cf36a" stroke-width="1.1"/></svg></div>
<div class="t" style="top:713.83px;font-size:10.2px;color:#a3a9ad;font-weight:400;letter-spacing:-0.45px;left:986.75px;width:600px;text-align:right;">18:49:10</div>
<div class="r" style="left:1367px;top:724.0px;width:1px;height:12.639999999999999px;background:#4d9a3d;"></div>
<div class="t" style="top:726.37px;font-size:10.2px;color:#eef0f1;font-weight:400;letter-spacing:-0.45px;left:850.75px;width:600px;text-align:right;"><b style="color:#eef0f1">0.01</b><span style="color:#4c5760">000000</span></div>
<div class="t" style="top:726.37px;font-size:10.2px;color:#8cf36a;font-weight:400;letter-spacing:-0.45px;left:919.00px;width:600px;text-align:right;"><span style="color:#5caa49">2275.</span><b style="color:#8cf36a">90</b><svg style="position:static;vertical-align:-1px;margin-left:2px" width="7" height="8" viewBox="0 0 7 8"><path d="M1,6.5 L6,1.5 M2,1.5 L6,1.5 L6,5.5" fill="none" stroke="#8cf36a" stroke-width="1.1"/></svg></div>
<div class="t" style="top:726.37px;font-size:10.2px;color:#a3a9ad;font-weight:400;letter-spacing:-0.45px;left:986.75px;width:600px;text-align:right;">18:49:10</div>
<div class="r" style="left:1367px;top:736.54px;width:1px;height:12.639999999999999px;background:#4d9a3d;"></div>
<div class="t" style="top:738.91px;font-size:10.2px;color:#eef0f1;font-weight:400;letter-spacing:-0.45px;left:850.75px;width:600px;text-align:right;"><b style="color:#eef0f1">0.1</b><span style="color:#4c5760">0000000</span></div>
<div class="t" style="top:738.91px;font-size:10.2px;color:#8cf36a;font-weight:400;letter-spacing:-0.45px;left:919.00px;width:600px;text-align:right;"><span style="color:#5caa49">2275.</span><b style="color:#8cf36a">91</b><svg style="position:static;vertical-align:-1px;margin-left:2px" width="7" height="8" viewBox="0 0 7 8"><path d="M1,6.5 L6,1.5 M2,1.5 L6,1.5 L6,5.5" fill="none" stroke="#8cf36a" stroke-width="1.1"/></svg></div>
<div class="t" style="top:738.91px;font-size:10.2px;color:#a3a9ad;font-weight:400;letter-spacing:-0.45px;left:986.75px;width:600px;text-align:right;">18:49:09</div>
<div class="r" style="left:1367px;top:749.08px;width:1px;height:12.639999999999999px;background:#4d9a3d;"></div>
<div class="t" style="top:751.45px;font-size:10.2px;color:#eef0f1;font-weight:400;letter-spacing:-0.45px;left:850.75px;width:600px;text-align:right;"><b style="color:#eef0f1">1.1411</b><span style="color:#4c5760">0000</span></div>
<div class="t" style="top:751.45px;font-size:10.2px;color:#8cf36a;font-weight:400;letter-spacing:-0.45px;left:919.00px;width:600px;text-align:right;"><span style="color:#5caa49">2275.</span><b style="color:#8cf36a">91</b><svg style="position:static;vertical-align:-1px;margin-left:2px" width="7" height="8" viewBox="0 0 7 8"><path d="M1,6.5 L6,1.5 M2,1.5 L6,1.5 L6,5.5" fill="none" stroke="#8cf36a" stroke-width="1.1"/></svg></div>
<div class="t" style="top:751.45px;font-size:10.2px;color:#a3a9ad;font-weight:400;letter-spacing:-0.45px;left:986.75px;width:600px;text-align:right;">18:49:08</div>
<div class="r" style="left:1367px;top:761.62px;width:2px;height:12.639999999999999px;background:#62d44b;"></div>
<div class="t" style="top:763.99px;font-size:10.2px;color:#eef0f1;font-weight:400;letter-spacing:-0.45px;left:850.75px;width:600px;text-align:right;"><b style="color:#eef0f1">3.28190556</b><span style="color:#4c5760"></span></div>
<div class="t" style="top:763.99px;font-size:10.2px;color:#8cf36a;font-weight:400;letter-spacing:-0.45px;left:919.00px;width:600px;text-align:right;"><span style="color:#5caa49">2274.</span><b style="color:#8cf36a">67</b><svg style="position:static;vertical-align:-1px;margin-left:2px" width="7" height="8" viewBox="0 0 7 8"><path d="M1,6.5 L6,1.5 M2,1.5 L6,1.5 L6,5.5" fill="none" stroke="#8cf36a" stroke-width="1.1"/></svg></div>
<div class="t" style="top:763.99px;font-size:10.2px;color:#a3a9ad;font-weight:400;letter-spacing:-0.45px;left:986.75px;width:600px;text-align:right;">18:49:00</div>
<div class="r" style="left:1367px;top:774.16px;width:1px;height:12.639999999999999px;background:#4d9a3d;"></div>
<div class="t" style="top:776.53px;font-size:10.2px;color:#eef0f1;font-weight:400;letter-spacing:-0.45px;left:850.75px;width:600px;text-align:right;"><b style="color:#eef0f1">0.25</b><span style="color:#4c5760">000000</span></div>
<div class="t" style="top:776.53px;font-size:10.2px;color:#8cf36a;font-weight:400;letter-spacing:-0.45px;left:919.00px;width:600px;text-align:right;"><span style="color:#5caa49">2274.</span><b style="color:#8cf36a">66</b><svg style="position:static;vertical-align:-1px;margin-left:2px" width="7" height="8" viewBox="0 0 7 8"><path d="M1,6.5 L6,1.5 M2,1.5 L6,1.5 L6,5.5" fill="none" stroke="#8cf36a" stroke-width="1.1"/></svg></div>
<div class="t" style="top:776.53px;font-size:10.2px;color:#a3a9ad;font-weight:400;letter-spacing:-0.45px;left:986.75px;width:600px;text-align:right;">18:49:00</div>
<div class="r" style="left:1367px;top:786.7px;width:1px;height:12.639999999999999px;background:#4d9a3d;"></div>
<div class="t" style="top:789.07px;font-size:10.2px;color:#eef0f1;font-weight:400;letter-spacing:-0.45px;left:850.75px;width:600px;text-align:right;"><b style="color:#eef0f1">0.01</b><span style="color:#4c5760">000000</span></div>
<div class="t" style="top:789.07px;font-size:10.2px;color:#8cf36a;font-weight:400;letter-spacing:-0.45px;left:919.00px;width:600px;text-align:right;"><span style="color:#5caa49">2274.</span><b style="color:#8cf36a">65</b><svg style="position:static;vertical-align:-1px;margin-left:2px" width="7" height="8" viewBox="0 0 7 8"><path d="M1,6.5 L6,1.5 M2,1.5 L6,1.5 L6,5.5" fill="none" stroke="#8cf36a" stroke-width="1.1"/></svg></div>
<div class="t" style="top:789.07px;font-size:10.2px;color:#a3a9ad;font-weight:400;letter-spacing:-0.45px;left:986.75px;width:600px;text-align:right;">18:49:00</div>
<div class="r" style="left:1367px;top:799.24px;width:1px;height:12.639999999999999px;background:#4d9a3d;"></div>
<div class="t" style="top:801.61px;font-size:10.2px;color:#eef0f1;font-weight:400;letter-spacing:-0.45px;left:850.75px;width:600px;text-align:right;"><b style="color:#eef0f1">0.3667</b><span style="color:#4c5760">0000</span></div>
<div class="t" style="top:801.61px;font-size:10.2px;color:#8cf36a;font-weight:400;letter-spacing:-0.45px;left:919.00px;width:600px;text-align:right;"><span style="color:#5caa49">2274.</span><b style="color:#8cf36a">62</b><svg style="position:static;vertical-align:-1px;margin-left:2px" width="7" height="8" viewBox="0 0 7 8"><path d="M1,6.5 L6,1.5 M2,1.5 L6,1.5 L6,5.5" fill="none" stroke="#8cf36a" stroke-width="1.1"/></svg></div>
<div class="t" style="top:801.61px;font-size:10.2px;color:#a3a9ad;font-weight:400;letter-spacing:-0.45px;left:986.75px;width:600px;text-align:right;">18:49:00</div>
<div class="r" style="left:1367px;top:811.78px;width:1px;height:12.639999999999999px;background:#4d9a3d;"></div>
<div class="t" style="top:814.15px;font-size:10.2px;color:#eef0f1;font-weight:400;letter-spacing:-0.45px;left:850.75px;width:600px;text-align:right;"><b style="color:#eef0f1">0.01</b><span style="color:#4c5760">000000</span></div>
<div class="t" style="top:814.15px;font-size:10.2px;color:#8cf36a;font-weight:400;letter-spacing:-0.45px;left:919.00px;width:600px;text-align:right;"><span style="color:#5caa49">2272.</span><b style="color:#8cf36a">95</b><svg style="position:static;vertical-align:-1px;margin-left:2px" width="7" height="8" viewBox="0 0 7 8"><path d="M1,6.5 L6,1.5 M2,1.5 L6,1.5 L6,5.5" fill="none" stroke="#8cf36a" stroke-width="1.1"/></svg></div>
<div class="t" style="top:814.15px;font-size:10.2px;color:#a3a9ad;font-weight:400;letter-spacing:-0.45px;left:986.75px;width:600px;text-align:right;">18:49:00</div>
<div class="r" style="left:1367px;top:824.32px;width:1px;height:12.639999999999999px;background:#4d9a3d;"></div>
<div class="t" style="top:826.69px;font-size:10.2px;color:#eef0f1;font-weight:400;letter-spacing:-0.45px;left:850.75px;width:600px;text-align:right;"><b style="color:#eef0f1">0.46713578</b><span style="color:#4c5760"></span></div>
<div class="t" style="top:826.69px;font-size:10.2px;color:#8cf36a;font-weight:400;letter-spacing:-0.45px;left:919.00px;width:600px;text-align:right;"><span style="color:#5caa49">2272.</span><b style="color:#8cf36a">50</b><svg style="position:static;vertical-align:-1px;margin-left:2px" width="7" height="8" viewBox="0 0 7 8"><path d="M1,6.5 L6,1.5 M2,1.5 L6,1.5 L6,5.5" fill="none" stroke="#8cf36a" stroke-width="1.1"/></svg></div>
<div class="t" style="top:826.69px;font-size:10.2px;color:#a3a9ad;font-weight:400;letter-spacing:-0.45px;left:986.75px;width:600px;text-align:right;">18:49:00</div>
<div class="r" style="left:1367px;top:836.86px;width:1px;height:12.639999999999999px;background:#4d9a3d;"></div>
<div class="t" style="top:839.23px;font-size:10.2px;color:#eef0f1;font-weight:400;letter-spacing:-0.45px;left:850.75px;width:600px;text-align:right;"><b style="color:#eef0f1">0.21947331</b><span style="color:#4c5760"></span></div>
<div class="t" style="top:839.23px;font-size:10.2px;color:#8cf36a;font-weight:400;letter-spacing:-0.45px;left:919.00px;width:600px;text-align:right;"><span style="color:#5caa49">2272.</span><b style="color:#8cf36a">50</b><svg style="position:static;vertical-align:-1px;margin-left:2px" width="7" height="8" viewBox="0 0 7 8"><path d="M1,6.5 L6,1.5 M2,1.5 L6,1.5 L6,5.5" fill="none" stroke="#8cf36a" stroke-width="1.1"/></svg></div>
<div class="t" style="top:839.23px;font-size:10.2px;color:#a3a9ad;font-weight:400;letter-spacing:-0.45px;left:986.75px;width:600px;text-align:right;">18:48:54</div>
<div class="r" style="left:1367px;top:849.4px;width:1px;height:12.639999999999999px;background:#8d4a37;"></div>
<div class="t" style="top:851.77px;font-size:10.2px;color:#eef0f1;font-weight:400;letter-spacing:-0.45px;left:850.75px;width:600px;text-align:right;"><b style="color:#eef0f1">0.66006258</b><span style="color:#4c5760"></span></div>
<div class="t" style="top:851.77px;font-size:10.2px;color:#f46b3f;font-weight:400;letter-spacing:-0.45px;left:919.00px;width:600px;text-align:right;"><span style="color:#b8583b">2270.</span><b style="color:#f46b3f">00</b><svg style="position:static;vertical-align:-1px;margin-left:2px" width="7" height="8" viewBox="0 0 7 8"><path d="M1,1.5 L6,6.5 M6,2.5 L6,6.5 L2,6.5" fill="none" stroke="#f46b3f" stroke-width="1.1"/></svg></div>
<div class="t" style="top:851.77px;font-size:10.2px;color:#a3a9ad;font-weight:400;letter-spacing:-0.45px;left:986.75px;width:600px;text-align:right;">18:48:42</div>
<div class="r" style="left:1367px;top:861.94px;width:2px;height:12.639999999999999px;background:#e0633a;"></div>
<div class="t" style="top:864.31px;font-size:10.2px;color:#eef0f1;font-weight:400;letter-spacing:-0.45px;left:850.75px;width:600px;text-align:right;"><b style="color:#eef0f1">5.0</b><span style="color:#4c5760">0000000</span></div>
<div class="t" style="top:864.31px;font-size:10.2px;color:#f46b3f;font-weight:400;letter-spacing:-0.45px;left:919.00px;width:600px;text-align:right;"><span style="color:#b8583b">2270.</span><b style="color:#f46b3f">01</b><svg style="position:static;vertical-align:-1px;margin-left:2px" width="7" height="8" viewBox="0 0 7 8"><path d="M1,1.5 L6,6.5 M6,2.5 L6,6.5 L2,6.5" fill="none" stroke="#f46b3f" stroke-width="1.1"/></svg></div>
<div class="t" style="top:864.31px;font-size:10.2px;color:#a3a9ad;font-weight:400;letter-spacing:-0.45px;left:986.75px;width:600px;text-align:right;">18:48:42</div>
<div class="r" style="left:1367px;top:874.48px;width:1px;height:12.639999999999999px;background:#8d4a37;"></div>
<div class="t" style="top:876.85px;font-size:10.2px;color:#eef0f1;font-weight:400;letter-spacing:-0.45px;left:850.75px;width:600px;text-align:right;"><b style="color:#eef0f1">0.1</b><span style="color:#4c5760">0000000</span></div>
<div class="t" style="top:876.85px;font-size:10.2px;color:#f46b3f;font-weight:400;letter-spacing:-0.45px;left:919.00px;width:600px;text-align:right;"><span style="color:#b8583b">2270.</span><b style="color:#f46b3f">10</b><svg style="position:static;vertical-align:-1px;margin-left:2px" width="7" height="8" viewBox="0 0 7 8"><path d="M1,1.5 L6,6.5 M6,2.5 L6,6.5 L2,6.5" fill="none" stroke="#f46b3f" stroke-width="1.1"/></svg></div>
<div class="t" style="top:876.85px;font-size:10.2px;color:#a3a9ad;font-weight:400;letter-spacing:-0.45px;left:986.75px;width:600px;text-align:right;">18:48:42</div>
<div class="r" style="left:1367px;top:887.02px;width:1px;height:12.639999999999999px;background:#8d4a37;"></div>
<div class="t" style="top:889.39px;font-size:10.2px;color:#eef0f1;font-weight:400;letter-spacing:-0.45px;left:850.75px;width:600px;text-align:right;"><b style="color:#eef0f1">1.7</b><span style="color:#4c5760">0000000</span></div>
<div class="t" style="top:889.39px;font-size:10.2px;color:#f46b3f;font-weight:400;letter-spacing:-0.45px;left:919.00px;width:600px;text-align:right;"><span style="color:#b8583b">2271.</span><b style="color:#f46b3f">51</b><svg style="position:static;vertical-align:-1px;margin-left:2px" width="7" height="8" viewBox="0 0 7 8"><path d="M1,1.5 L6,6.5 M6,2.5 L6,6.5 L2,6.5" fill="none" stroke="#f46b3f" stroke-width="1.1"/></svg></div>
<div class="t" style="top:889.39px;font-size:10.2px;color:#a3a9ad;font-weight:400;letter-spacing:-0.45px;left:986.75px;width:600px;text-align:right;">18:48:42</div>
<div class="r" style="left:1367px;top:899.56px;width:1px;height:12.639999999999999px;background:#8d4a37;"></div>
<div class="t" style="top:901.93px;font-size:10.2px;color:#eef0f1;font-weight:400;letter-spacing:-0.45px;left:850.75px;width:600px;text-align:right;"><b style="color:#eef0f1">0.25</b><span style="color:#4c5760">000000</span></div>
<div class="t" style="top:901.93px;font-size:10.2px;color:#f46b3f;font-weight:400;letter-spacing:-0.45px;left:919.00px;width:600px;text-align:right;"><span style="color:#b8583b">2271.</span><b style="color:#f46b3f">52</b><svg style="position:static;vertical-align:-1px;margin-left:2px" width="7" height="8" viewBox="0 0 7 8"><path d="M1,1.5 L6,6.5 M6,2.5 L6,6.5 L2,6.5" fill="none" stroke="#f46b3f" stroke-width="1.1"/></svg></div>
<div class="t" style="top:901.93px;font-size:10.2px;color:#a3a9ad;font-weight:400;letter-spacing:-0.45px;left:986.75px;width:600px;text-align:right;">18:48:42</div>
</body></html>
